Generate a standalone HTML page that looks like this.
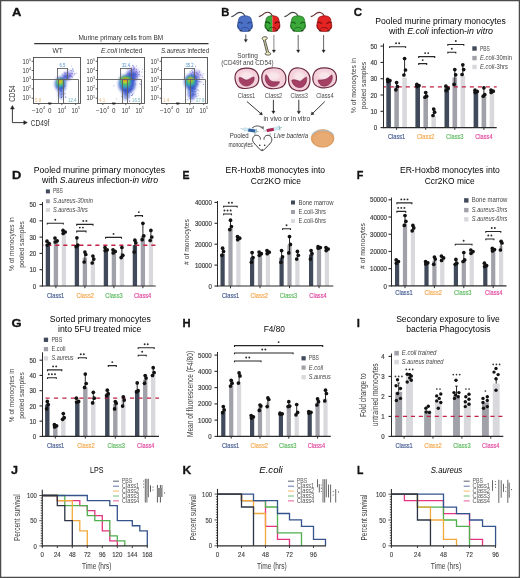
<!DOCTYPE html>
<html><head><meta charset="utf-8"><style>
html,body{margin:0;padding:0;background:#fff;}
svg{display:block;}
text{font-family:"Liberation Sans", sans-serif;}
</style></head><body>
<svg width="520" height="578" viewBox="0 0 520 578">
<defs>
<filter id="blur1" x="-50%" y="-50%" width="200%" height="200%"><feGaussianBlur stdDeviation="1.6"/></filter>
<filter id="blur2" x="-50%" y="-50%" width="200%" height="200%"><feGaussianBlur stdDeviation="0.8"/></filter>
</defs>
<rect x="0" y="0" width="520" height="578" fill="#fff"/>
<g opacity="0.995">
<text x="353.80" y="16.20" font-size="11.0" fill="#111" font-weight="bold" textLength="8.30" lengthAdjust="spacingAndGlyphs" stroke="#111" stroke-width="0.3">C</text>
<text x="440.50" y="23.70" font-size="8.3" text-anchor="middle" textLength="130.60" lengthAdjust="spacingAndGlyphs">Pooled murine primary monocytes</text>
<text x="441.00" y="34.00" font-size="8.3" text-anchor="middle" textLength="104.00" lengthAdjust="spacingAndGlyphs">with <tspan font-style="italic">E.coli</tspan> infection-<tspan font-style="italic">in vitro</tspan></text>
<line x1="383.50" y1="43.50" x2="383.50" y2="128.10" stroke="#2b2b2b" stroke-width="1"/>
<line x1="380.50" y1="127.60" x2="383.50" y2="127.60" stroke="#2b2b2b" stroke-width="1.1"/>
<text x="377.20" y="130.20" font-size="7.8" text-anchor="end" fill="#3c3c3c" textLength="3.40" lengthAdjust="spacingAndGlyphs" stroke="#3c3c3c" stroke-width="0.2">0</text>
<line x1="380.50" y1="111.30" x2="383.50" y2="111.30" stroke="#2b2b2b" stroke-width="1.1"/>
<text x="377.20" y="113.90" font-size="7.8" text-anchor="end" fill="#3c3c3c" textLength="6.80" lengthAdjust="spacingAndGlyphs" stroke="#3c3c3c" stroke-width="0.2">10</text>
<line x1="380.50" y1="95.00" x2="383.50" y2="95.00" stroke="#2b2b2b" stroke-width="1.1"/>
<text x="377.20" y="97.60" font-size="7.8" text-anchor="end" fill="#3c3c3c" textLength="6.80" lengthAdjust="spacingAndGlyphs" stroke="#3c3c3c" stroke-width="0.2">20</text>
<line x1="380.50" y1="78.70" x2="383.50" y2="78.70" stroke="#2b2b2b" stroke-width="1.1"/>
<text x="377.20" y="81.30" font-size="7.8" text-anchor="end" fill="#3c3c3c" textLength="6.80" lengthAdjust="spacingAndGlyphs" stroke="#3c3c3c" stroke-width="0.2">30</text>
<line x1="380.50" y1="62.40" x2="383.50" y2="62.40" stroke="#2b2b2b" stroke-width="1.1"/>
<text x="377.20" y="65.00" font-size="7.8" text-anchor="end" fill="#3c3c3c" textLength="6.80" lengthAdjust="spacingAndGlyphs" stroke="#3c3c3c" stroke-width="0.2">40</text>
<line x1="380.50" y1="46.10" x2="383.50" y2="46.10" stroke="#2b2b2b" stroke-width="1.1"/>
<text x="377.20" y="48.70" font-size="7.8" text-anchor="end" fill="#3c3c3c" textLength="6.80" lengthAdjust="spacingAndGlyphs" stroke="#3c3c3c" stroke-width="0.2">50</text>
<rect x="386.30" y="80.40" width="4.60" height="47.20" fill="#3f4959"/>
<rect x="394.30" y="86.40" width="4.60" height="41.20" fill="#a1a1a9"/>
<rect x="402.30" y="77.50" width="4.60" height="50.10" fill="#d9d9dd"/>
<rect x="415.40" y="85.20" width="4.60" height="42.40" fill="#3f4959"/>
<rect x="423.40" y="97.30" width="4.60" height="30.30" fill="#a1a1a9"/>
<rect x="431.40" y="116.40" width="4.60" height="11.20" fill="#d9d9dd"/>
<rect x="444.50" y="87.80" width="4.60" height="39.80" fill="#3f4959"/>
<rect x="452.50" y="77.40" width="4.60" height="50.20" fill="#a1a1a9"/>
<rect x="460.50" y="75.70" width="4.60" height="51.90" fill="#d9d9dd"/>
<rect x="473.60" y="90.40" width="4.60" height="37.20" fill="#3f4959"/>
<rect x="481.60" y="96.50" width="4.60" height="31.10" fill="#a1a1a9"/>
<rect x="489.60" y="91.30" width="4.60" height="36.30" fill="#d9d9dd"/>
<line x1="384.00" y1="86.85" x2="496.70" y2="86.85" stroke="#bf2245" stroke-width="1.3" stroke-dasharray="4.1 3.90" stroke-dashoffset="2.20"/>
<circle cx="387.70" cy="79.40" r="1.85" fill="#111"/>
<circle cx="389.90" cy="80.60" r="1.85" fill="#111"/>
<circle cx="387.90" cy="81.60" r="1.85" fill="#111"/>
<line x1="396.60" y1="82.60" x2="396.60" y2="89.80" stroke="#111" stroke-width="0.9"/>
<circle cx="396.60" cy="82.60" r="1.85" fill="#111"/>
<circle cx="397.50" cy="86.50" r="1.85" fill="#111"/>
<circle cx="395.90" cy="89.80" r="1.85" fill="#111"/>
<line x1="404.60" y1="58.50" x2="404.60" y2="75.00" stroke="#111" stroke-width="0.9"/>
<circle cx="404.60" cy="58.50" r="1.85" fill="#111"/>
<circle cx="405.50" cy="70.00" r="1.85" fill="#111"/>
<circle cx="403.90" cy="75.00" r="1.85" fill="#111"/>
<circle cx="416.80" cy="84.40" r="1.85" fill="#111"/>
<circle cx="419.00" cy="85.60" r="1.85" fill="#111"/>
<circle cx="417.00" cy="86.60" r="1.85" fill="#111"/>
<line x1="425.70" y1="92.50" x2="425.70" y2="97.20" stroke="#111" stroke-width="0.9"/>
<circle cx="425.70" cy="92.50" r="1.85" fill="#111"/>
<circle cx="426.60" cy="96.20" r="1.85" fill="#111"/>
<circle cx="425.00" cy="97.20" r="1.85" fill="#111"/>
<line x1="433.70" y1="109.10" x2="433.70" y2="115.50" stroke="#111" stroke-width="0.9"/>
<circle cx="433.70" cy="109.10" r="1.85" fill="#111"/>
<circle cx="434.60" cy="112.20" r="1.85" fill="#111"/>
<circle cx="433.00" cy="115.50" r="1.85" fill="#111"/>
<circle cx="445.90" cy="86.20" r="1.85" fill="#111"/>
<circle cx="448.10" cy="88.40" r="1.85" fill="#111"/>
<circle cx="446.10" cy="90.60" r="1.85" fill="#111"/>
<line x1="454.80" y1="69.60" x2="454.80" y2="84.40" stroke="#111" stroke-width="0.9"/>
<circle cx="454.80" cy="69.60" r="1.85" fill="#111"/>
<circle cx="455.70" cy="74.80" r="1.85" fill="#111"/>
<circle cx="454.10" cy="84.40" r="1.85" fill="#111"/>
<line x1="462.80" y1="64.80" x2="462.80" y2="74.50" stroke="#111" stroke-width="0.9"/>
<circle cx="462.80" cy="64.80" r="1.85" fill="#111"/>
<circle cx="463.70" cy="69.60" r="1.85" fill="#111"/>
<circle cx="462.10" cy="74.50" r="1.85" fill="#111"/>
<circle cx="475.00" cy="90.20" r="1.85" fill="#111"/>
<circle cx="477.20" cy="91.40" r="1.85" fill="#111"/>
<circle cx="475.20" cy="92.60" r="1.85" fill="#111"/>
<line x1="483.90" y1="87.80" x2="483.90" y2="96.20" stroke="#111" stroke-width="0.9"/>
<circle cx="483.90" cy="87.80" r="1.85" fill="#111"/>
<circle cx="484.80" cy="94.70" r="1.85" fill="#111"/>
<circle cx="483.20" cy="96.20" r="1.85" fill="#111"/>
<circle cx="491.00" cy="90.00" r="1.85" fill="#111"/>
<circle cx="493.20" cy="91.20" r="1.85" fill="#111"/>
<circle cx="491.20" cy="92.40" r="1.85" fill="#111"/>
<line x1="383.00" y1="127.60" x2="496.70" y2="127.60" stroke="#2b2b2b" stroke-width="1.1"/>
<line x1="396.60" y1="127.60" x2="396.60" y2="129.80" stroke="#2b2b2b" stroke-width="1"/>
<line x1="425.70" y1="127.60" x2="425.70" y2="129.80" stroke="#2b2b2b" stroke-width="1"/>
<line x1="454.80" y1="127.60" x2="454.80" y2="129.80" stroke="#2b2b2b" stroke-width="1"/>
<line x1="483.90" y1="127.60" x2="483.90" y2="129.80" stroke="#2b2b2b" stroke-width="1"/>
<path d="M389.60,48.10 L389.60,46.80 L405.60,46.80 L405.60,48.10" stroke="#262626" stroke-width="1.1" fill="none"/>
<circle cx="396.05" cy="43.30" r="0.95" fill="#2a2a2a"/>
<circle cx="399.15" cy="43.30" r="0.95" fill="#2a2a2a"/>
<path d="M418.70,64.90 L418.70,63.60 L426.70,63.60 L426.70,64.90" stroke="#262626" stroke-width="1.1" fill="none"/>
<circle cx="422.70" cy="60.10" r="0.95" fill="#2a2a2a"/>
<path d="M418.70,57.90 L418.70,56.60 L434.70,56.60 L434.70,57.90" stroke="#262626" stroke-width="1.1" fill="none"/>
<circle cx="425.15" cy="53.10" r="0.95" fill="#2a2a2a"/>
<circle cx="428.25" cy="53.10" r="0.95" fill="#2a2a2a"/>
<path d="M447.80,53.60 L447.80,52.30 L455.80,52.30 L455.80,53.60" stroke="#262626" stroke-width="1.1" fill="none"/>
<circle cx="451.80" cy="48.80" r="0.95" fill="#2a2a2a"/>
<path d="M447.80,45.80 L447.80,44.50 L463.80,44.50 L463.80,45.80" stroke="#262626" stroke-width="1.1" fill="none"/>
<circle cx="455.80" cy="41.00" r="0.95" fill="#2a2a2a"/>
<rect x="472.30" y="46.30" width="4.40" height="4.40" fill="#3f4959"/>
<text x="480.00" y="50.50" font-size="6.3" fill="#444" textLength="9.90" lengthAdjust="spacingAndGlyphs">PBS</text>
<rect x="472.30" y="55.90" width="4.40" height="4.40" fill="#a1a1a9"/>
<text x="480.00" y="60.10" font-size="6.3" fill="#444" textLength="32.00" lengthAdjust="spacingAndGlyphs"><tspan font-style="italic">E.coli</tspan>-30min</text>
<rect x="472.30" y="64.80" width="4.40" height="4.40" fill="#d9d9dd"/>
<text x="480.00" y="69.00" font-size="6.3" fill="#444" textLength="27.90" lengthAdjust="spacingAndGlyphs"><tspan font-style="italic">E.coli</tspan>-3hrs</text>
<text x="396.60" y="139.30" font-size="7.6" text-anchor="middle" fill="#42598f" textLength="17.40" lengthAdjust="spacingAndGlyphs" stroke="#42598f" stroke-width="0.18">Class1</text>
<text x="425.70" y="139.30" font-size="7.6" text-anchor="middle" fill="#f3a64c" textLength="17.40" lengthAdjust="spacingAndGlyphs" stroke="#f3a64c" stroke-width="0.18">Class2</text>
<text x="454.80" y="139.30" font-size="7.6" text-anchor="middle" fill="#5bb85d" textLength="17.40" lengthAdjust="spacingAndGlyphs" stroke="#5bb85d" stroke-width="0.18">Class3</text>
<text x="483.90" y="139.30" font-size="7.6" text-anchor="middle" fill="#e0449c" textLength="17.40" lengthAdjust="spacingAndGlyphs" stroke="#e0449c" stroke-width="0.18">Class4</text>
<text x="355.70" y="85.50" font-size="8.0" text-anchor="middle" fill="#3c3c3c" textLength="55.30" lengthAdjust="spacingAndGlyphs" transform="rotate(-90 355.70 85.50)">% of monocytes in</text>
<text x="366.30" y="85.50" font-size="8.0" text-anchor="middle" fill="#3c3c3c" textLength="47.50" lengthAdjust="spacingAndGlyphs" transform="rotate(-90 366.30 85.50)">pooled samples</text>
<text x="12.10" y="178.80" font-size="11.0" fill="#111" font-weight="bold" textLength="9.30" lengthAdjust="spacingAndGlyphs" stroke="#111" stroke-width="0.3">D</text>
<text x="99.40" y="172.70" font-size="8.3" text-anchor="middle" textLength="131.30" lengthAdjust="spacingAndGlyphs">Pooled murine primary monocytes</text>
<text x="100.00" y="183.00" font-size="8.3" text-anchor="middle" textLength="116.00" lengthAdjust="spacingAndGlyphs">with <tspan font-style="italic">S.aureus</tspan> infection-<tspan font-style="italic">in vitro</tspan></text>
<line x1="42.50" y1="202.00" x2="42.50" y2="286.50" stroke="#2b2b2b" stroke-width="1"/>
<line x1="39.50" y1="286.00" x2="42.50" y2="286.00" stroke="#2b2b2b" stroke-width="1.1"/>
<text x="36.20" y="288.60" font-size="7.8" text-anchor="end" fill="#3c3c3c" textLength="3.40" lengthAdjust="spacingAndGlyphs" stroke="#3c3c3c" stroke-width="0.2">0</text>
<line x1="39.50" y1="269.70" x2="42.50" y2="269.70" stroke="#2b2b2b" stroke-width="1.1"/>
<text x="36.20" y="272.30" font-size="7.8" text-anchor="end" fill="#3c3c3c" textLength="6.80" lengthAdjust="spacingAndGlyphs" stroke="#3c3c3c" stroke-width="0.2">10</text>
<line x1="39.50" y1="253.40" x2="42.50" y2="253.40" stroke="#2b2b2b" stroke-width="1.1"/>
<text x="36.20" y="256.00" font-size="7.8" text-anchor="end" fill="#3c3c3c" textLength="6.80" lengthAdjust="spacingAndGlyphs" stroke="#3c3c3c" stroke-width="0.2">20</text>
<line x1="39.50" y1="237.10" x2="42.50" y2="237.10" stroke="#2b2b2b" stroke-width="1.1"/>
<text x="36.20" y="239.70" font-size="7.8" text-anchor="end" fill="#3c3c3c" textLength="6.80" lengthAdjust="spacingAndGlyphs" stroke="#3c3c3c" stroke-width="0.2">30</text>
<line x1="39.50" y1="220.80" x2="42.50" y2="220.80" stroke="#2b2b2b" stroke-width="1.1"/>
<text x="36.20" y="223.40" font-size="7.8" text-anchor="end" fill="#3c3c3c" textLength="6.80" lengthAdjust="spacingAndGlyphs" stroke="#3c3c3c" stroke-width="0.2">40</text>
<line x1="39.50" y1="204.50" x2="42.50" y2="204.50" stroke="#2b2b2b" stroke-width="1.1"/>
<text x="36.20" y="207.10" font-size="7.8" text-anchor="end" fill="#3c3c3c" textLength="6.80" lengthAdjust="spacingAndGlyphs" stroke="#3c3c3c" stroke-width="0.2">50</text>
<rect x="45.75" y="245.00" width="4.30" height="41.00" fill="#3f4959"/>
<rect x="53.75" y="239.70" width="4.30" height="46.30" fill="#a1a1a9"/>
<rect x="61.75" y="233.50" width="4.30" height="52.50" fill="#d9d9dd"/>
<rect x="74.75" y="245.00" width="4.30" height="41.00" fill="#3f4959"/>
<rect x="82.75" y="257.60" width="4.30" height="28.40" fill="#a1a1a9"/>
<rect x="90.75" y="260.00" width="4.30" height="26.00" fill="#d9d9dd"/>
<rect x="103.75" y="249.80" width="4.30" height="36.20" fill="#3f4959"/>
<rect x="111.75" y="252.10" width="4.30" height="33.90" fill="#a1a1a9"/>
<rect x="119.75" y="252.90" width="4.30" height="33.10" fill="#d9d9dd"/>
<rect x="132.75" y="245.10" width="4.30" height="40.90" fill="#3f4959"/>
<rect x="140.75" y="235.80" width="4.30" height="50.20" fill="#a1a1a9"/>
<rect x="148.75" y="237.40" width="4.30" height="48.60" fill="#d9d9dd"/>
<line x1="43.00" y1="245.25" x2="155.70" y2="245.25" stroke="#bf2245" stroke-width="1.3" stroke-dasharray="4.1 3.90" stroke-dashoffset="3.70"/>
<circle cx="47.00" cy="241.20" r="1.85" fill="#111"/>
<circle cx="49.20" cy="243.50" r="1.85" fill="#111"/>
<circle cx="47.20" cy="245.10" r="1.85" fill="#111"/>
<circle cx="55.00" cy="238.10" r="1.85" fill="#111"/>
<circle cx="57.20" cy="240.80" r="1.85" fill="#111"/>
<circle cx="55.20" cy="242.00" r="1.85" fill="#111"/>
<circle cx="63.00" cy="230.40" r="1.85" fill="#111"/>
<circle cx="65.20" cy="232.00" r="1.85" fill="#111"/>
<circle cx="63.20" cy="233.50" r="1.85" fill="#111"/>
<line x1="76.90" y1="237.80" x2="76.90" y2="246.70" stroke="#111" stroke-width="0.9"/>
<circle cx="76.90" cy="237.80" r="1.85" fill="#111"/>
<circle cx="77.80" cy="245.10" r="1.85" fill="#111"/>
<circle cx="76.20" cy="246.70" r="1.85" fill="#111"/>
<line x1="84.90" y1="252.10" x2="84.90" y2="262.00" stroke="#111" stroke-width="0.9"/>
<circle cx="84.90" cy="252.10" r="1.85" fill="#111"/>
<circle cx="85.80" cy="254.50" r="1.85" fill="#111"/>
<circle cx="84.20" cy="262.00" r="1.85" fill="#111"/>
<line x1="92.90" y1="256.00" x2="92.90" y2="263.00" stroke="#111" stroke-width="0.9"/>
<circle cx="92.90" cy="256.00" r="1.85" fill="#111"/>
<circle cx="93.80" cy="259.10" r="1.85" fill="#111"/>
<circle cx="92.20" cy="263.00" r="1.85" fill="#111"/>
<circle cx="105.00" cy="247.50" r="1.85" fill="#111"/>
<circle cx="107.20" cy="249.80" r="1.85" fill="#111"/>
<circle cx="105.20" cy="250.60" r="1.85" fill="#111"/>
<circle cx="113.00" cy="249.80" r="1.85" fill="#111"/>
<circle cx="115.20" cy="251.40" r="1.85" fill="#111"/>
<circle cx="113.20" cy="252.90" r="1.85" fill="#111"/>
<line x1="121.90" y1="247.50" x2="121.90" y2="257.60" stroke="#111" stroke-width="0.9"/>
<circle cx="121.90" cy="247.50" r="1.85" fill="#111"/>
<circle cx="122.80" cy="255.30" r="1.85" fill="#111"/>
<circle cx="121.20" cy="257.60" r="1.85" fill="#111"/>
<line x1="134.90" y1="240.20" x2="134.90" y2="252.10" stroke="#111" stroke-width="0.9"/>
<circle cx="134.90" cy="240.20" r="1.85" fill="#111"/>
<circle cx="135.80" cy="242.80" r="1.85" fill="#111"/>
<circle cx="134.20" cy="252.10" r="1.85" fill="#111"/>
<line x1="142.90" y1="223.30" x2="142.90" y2="239.70" stroke="#111" stroke-width="0.9"/>
<circle cx="142.90" cy="223.30" r="1.85" fill="#111"/>
<circle cx="143.80" cy="235.80" r="1.85" fill="#111"/>
<circle cx="142.20" cy="239.70" r="1.85" fill="#111"/>
<line x1="150.90" y1="230.40" x2="150.90" y2="240.50" stroke="#111" stroke-width="0.9"/>
<circle cx="150.90" cy="230.40" r="1.85" fill="#111"/>
<circle cx="151.80" cy="237.00" r="1.85" fill="#111"/>
<circle cx="150.20" cy="240.50" r="1.85" fill="#111"/>
<line x1="42.00" y1="286.00" x2="155.70" y2="286.00" stroke="#2b2b2b" stroke-width="1.1"/>
<line x1="55.90" y1="286.00" x2="55.90" y2="288.20" stroke="#2b2b2b" stroke-width="1"/>
<line x1="84.90" y1="286.00" x2="84.90" y2="288.20" stroke="#2b2b2b" stroke-width="1"/>
<line x1="113.90" y1="286.00" x2="113.90" y2="288.20" stroke="#2b2b2b" stroke-width="1"/>
<line x1="142.90" y1="286.00" x2="142.90" y2="288.20" stroke="#2b2b2b" stroke-width="1"/>
<path d="M47.30,224.60 L47.30,223.30 L63.30,223.30 L63.30,224.60" stroke="#262626" stroke-width="1.1" fill="none"/>
<circle cx="55.30" cy="219.80" r="0.95" fill="#2a2a2a"/>
<path d="M76.70,225.70 L76.70,224.40 L93.00,224.40 L93.00,225.70" stroke="#262626" stroke-width="1.1" fill="none"/>
<circle cx="83.30" cy="220.90" r="0.95" fill="#2a2a2a"/>
<circle cx="86.40" cy="220.90" r="0.95" fill="#2a2a2a"/>
<path d="M76.70,232.40 L76.70,231.10 L86.00,231.10 L86.00,232.40" stroke="#262626" stroke-width="1.1" fill="none"/>
<circle cx="79.80" cy="227.60" r="0.95" fill="#2a2a2a"/>
<circle cx="82.90" cy="227.60" r="0.95" fill="#2a2a2a"/>
<path d="M105.60,238.70 L105.60,237.40 L121.50,237.40 L121.50,238.70" stroke="#262626" stroke-width="1.1" fill="none"/>
<circle cx="113.55" cy="233.90" r="0.95" fill="#2a2a2a"/>
<path d="M135.20,216.90 L135.20,215.60 L142.50,215.60 L142.50,216.90" stroke="#262626" stroke-width="1.1" fill="none"/>
<circle cx="138.85" cy="212.10" r="0.95" fill="#2a2a2a"/>
<rect x="45.90" y="189.40" width="4.00" height="4.00" fill="#3f4959"/>
<text x="52.90" y="193.40" font-size="6.3" fill="#444" textLength="10.00" lengthAdjust="spacingAndGlyphs">PBS</text>
<rect x="45.90" y="199.20" width="4.00" height="4.00" fill="#a1a1a9"/>
<text x="52.90" y="203.20" font-size="6.3" fill="#444" textLength="40.00" lengthAdjust="spacingAndGlyphs"><tspan font-style="italic">S.aureus-30min</tspan></text>
<rect x="45.90" y="208.00" width="4.00" height="4.00" fill="#d9d9dd"/>
<text x="52.90" y="212.00" font-size="6.3" fill="#444" textLength="35.00" lengthAdjust="spacingAndGlyphs"><tspan font-style="italic">S.aureus-3hrs</tspan></text>
<text x="55.60" y="297.90" font-size="7.6" text-anchor="middle" fill="#42598f" textLength="17.40" lengthAdjust="spacingAndGlyphs" stroke="#42598f" stroke-width="0.18">Class1</text>
<text x="85.20" y="297.90" font-size="7.6" text-anchor="middle" fill="#f3a64c" textLength="17.40" lengthAdjust="spacingAndGlyphs" stroke="#f3a64c" stroke-width="0.18">Class2</text>
<text x="114.00" y="297.90" font-size="7.6" text-anchor="middle" fill="#5bb85d" textLength="17.40" lengthAdjust="spacingAndGlyphs" stroke="#5bb85d" stroke-width="0.18">Class3</text>
<text x="142.60" y="297.90" font-size="7.6" text-anchor="middle" fill="#e0449c" textLength="17.40" lengthAdjust="spacingAndGlyphs" stroke="#e0449c" stroke-width="0.18">Class4</text>
<text x="14.00" y="244.20" font-size="8.0" text-anchor="middle" fill="#3c3c3c" textLength="53.50" lengthAdjust="spacingAndGlyphs" transform="rotate(-90 14.00 244.20)">% of monocytes in</text>
<text x="24.40" y="244.40" font-size="8.0" text-anchor="middle" fill="#3c3c3c" textLength="46.70" lengthAdjust="spacingAndGlyphs" transform="rotate(-90 24.40 244.40)">pooled samples</text>
<text x="182.60" y="178.80" font-size="11.0" fill="#111" font-weight="bold" textLength="7.00" lengthAdjust="spacingAndGlyphs" stroke="#111" stroke-width="0.3">E</text>
<text x="275.30" y="173.40" font-size="8.3" text-anchor="middle" textLength="99.50" lengthAdjust="spacingAndGlyphs">ER-Hoxb8 monocytes into</text>
<text x="275.90" y="183.70" font-size="8.3" text-anchor="middle" textLength="50.20" lengthAdjust="spacingAndGlyphs">Ccr2KO mice</text>
<line x1="217.50" y1="201.00" x2="217.50" y2="286.50" stroke="#2b2b2b" stroke-width="1"/>
<line x1="214.50" y1="286.00" x2="217.50" y2="286.00" stroke="#2b2b2b" stroke-width="1.1"/>
<text x="211.90" y="288.60" font-size="7.8" text-anchor="end" fill="#3c3c3c" textLength="3.40" lengthAdjust="spacingAndGlyphs" stroke="#3c3c3c" stroke-width="0.2">0</text>
<line x1="214.50" y1="265.10" x2="217.50" y2="265.10" stroke="#2b2b2b" stroke-width="1.1"/>
<text x="211.90" y="267.70" font-size="7.8" text-anchor="end" fill="#3c3c3c" textLength="17.00" lengthAdjust="spacingAndGlyphs" stroke="#3c3c3c" stroke-width="0.2">10000</text>
<line x1="214.50" y1="244.20" x2="217.50" y2="244.20" stroke="#2b2b2b" stroke-width="1.1"/>
<text x="211.90" y="246.80" font-size="7.8" text-anchor="end" fill="#3c3c3c" textLength="17.00" lengthAdjust="spacingAndGlyphs" stroke="#3c3c3c" stroke-width="0.2">20000</text>
<line x1="214.50" y1="223.30" x2="217.50" y2="223.30" stroke="#2b2b2b" stroke-width="1.1"/>
<text x="211.90" y="225.90" font-size="7.8" text-anchor="end" fill="#3c3c3c" textLength="17.00" lengthAdjust="spacingAndGlyphs" stroke="#3c3c3c" stroke-width="0.2">30000</text>
<line x1="214.50" y1="202.40" x2="217.50" y2="202.40" stroke="#2b2b2b" stroke-width="1.1"/>
<text x="211.90" y="205.00" font-size="7.8" text-anchor="end" fill="#3c3c3c" textLength="17.00" lengthAdjust="spacingAndGlyphs" stroke="#3c3c3c" stroke-width="0.2">40000</text>
<rect x="220.50" y="253.70" width="4.20" height="32.30" fill="#3f4959"/>
<rect x="228.40" y="228.00" width="4.20" height="58.00" fill="#a1a1a9"/>
<rect x="236.30" y="238.90" width="4.20" height="47.10" fill="#d9d9dd"/>
<rect x="250.00" y="257.60" width="4.20" height="28.40" fill="#3f4959"/>
<rect x="257.90" y="253.70" width="4.20" height="32.30" fill="#a1a1a9"/>
<rect x="265.80" y="252.90" width="4.20" height="33.10" fill="#d9d9dd"/>
<rect x="279.50" y="257.60" width="4.20" height="28.40" fill="#3f4959"/>
<rect x="287.40" y="245.10" width="4.20" height="40.90" fill="#a1a1a9"/>
<rect x="295.30" y="258.40" width="4.20" height="27.60" fill="#d9d9dd"/>
<rect x="309.00" y="254.50" width="4.20" height="31.50" fill="#3f4959"/>
<rect x="316.90" y="248.20" width="4.20" height="37.80" fill="#a1a1a9"/>
<rect x="324.80" y="249.80" width="4.20" height="36.20" fill="#d9d9dd"/>
<line x1="222.60" y1="248.20" x2="222.60" y2="255.30" stroke="#111" stroke-width="0.9"/>
<circle cx="222.60" cy="248.20" r="1.85" fill="#111"/>
<circle cx="223.50" cy="251.40" r="1.85" fill="#111"/>
<circle cx="221.90" cy="255.30" r="1.85" fill="#111"/>
<line x1="230.50" y1="220.20" x2="230.50" y2="229.60" stroke="#111" stroke-width="0.9"/>
<circle cx="230.50" cy="220.20" r="1.85" fill="#111"/>
<circle cx="231.40" cy="226.50" r="1.85" fill="#111"/>
<circle cx="229.80" cy="229.60" r="1.85" fill="#111"/>
<circle cx="237.50" cy="236.60" r="1.85" fill="#111"/>
<circle cx="239.70" cy="238.20" r="1.85" fill="#111"/>
<circle cx="237.70" cy="239.70" r="1.85" fill="#111"/>
<line x1="252.10" y1="252.60" x2="252.10" y2="262.30" stroke="#111" stroke-width="0.9"/>
<circle cx="252.10" cy="252.60" r="1.85" fill="#111"/>
<circle cx="253.00" cy="257.60" r="1.85" fill="#111"/>
<circle cx="251.40" cy="262.30" r="1.85" fill="#111"/>
<circle cx="259.10" cy="252.10" r="1.85" fill="#111"/>
<circle cx="261.30" cy="253.70" r="1.85" fill="#111"/>
<circle cx="259.30" cy="255.30" r="1.85" fill="#111"/>
<circle cx="267.00" cy="250.60" r="1.85" fill="#111"/>
<circle cx="269.20" cy="252.20" r="1.85" fill="#111"/>
<circle cx="267.20" cy="253.70" r="1.85" fill="#111"/>
<line x1="281.60" y1="250.60" x2="281.60" y2="262.30" stroke="#111" stroke-width="0.9"/>
<circle cx="281.60" cy="250.60" r="1.85" fill="#111"/>
<circle cx="282.50" cy="256.80" r="1.85" fill="#111"/>
<circle cx="280.90" cy="262.30" r="1.85" fill="#111"/>
<line x1="289.50" y1="236.60" x2="289.50" y2="252.90" stroke="#111" stroke-width="0.9"/>
<circle cx="289.50" cy="236.60" r="1.85" fill="#111"/>
<circle cx="290.40" cy="244.40" r="1.85" fill="#111"/>
<circle cx="288.80" cy="252.90" r="1.85" fill="#111"/>
<line x1="297.40" y1="251.40" x2="297.40" y2="259.10" stroke="#111" stroke-width="0.9"/>
<circle cx="297.40" cy="251.40" r="1.85" fill="#111"/>
<circle cx="298.30" cy="255.30" r="1.85" fill="#111"/>
<circle cx="296.70" cy="259.10" r="1.85" fill="#111"/>
<line x1="311.10" y1="250.60" x2="311.10" y2="259.10" stroke="#111" stroke-width="0.9"/>
<circle cx="311.10" cy="250.60" r="1.85" fill="#111"/>
<circle cx="312.00" cy="253.70" r="1.85" fill="#111"/>
<circle cx="310.40" cy="259.10" r="1.85" fill="#111"/>
<circle cx="318.10" cy="246.70" r="1.85" fill="#111"/>
<circle cx="320.30" cy="247.50" r="1.85" fill="#111"/>
<circle cx="318.30" cy="248.20" r="1.85" fill="#111"/>
<circle cx="326.00" cy="247.50" r="1.85" fill="#111"/>
<circle cx="328.20" cy="249.00" r="1.85" fill="#111"/>
<circle cx="326.20" cy="250.60" r="1.85" fill="#111"/>
<line x1="217.00" y1="286.00" x2="333.30" y2="286.00" stroke="#2b2b2b" stroke-width="1.1"/>
<line x1="230.50" y1="286.00" x2="230.50" y2="288.20" stroke="#2b2b2b" stroke-width="1"/>
<line x1="260.00" y1="286.00" x2="260.00" y2="288.20" stroke="#2b2b2b" stroke-width="1"/>
<line x1="289.50" y1="286.00" x2="289.50" y2="288.20" stroke="#2b2b2b" stroke-width="1"/>
<line x1="319.00" y1="286.00" x2="319.00" y2="288.20" stroke="#2b2b2b" stroke-width="1"/>
<path d="M223.60,207.50 L223.60,206.20 L237.20,206.20 L237.20,207.50" stroke="#262626" stroke-width="1.1" fill="none"/>
<circle cx="228.85" cy="202.70" r="0.95" fill="#2a2a2a"/>
<circle cx="231.95" cy="202.70" r="0.95" fill="#2a2a2a"/>
<path d="M223.60,215.30 L223.60,214.00 L231.50,214.00 L231.50,215.30" stroke="#262626" stroke-width="1.1" fill="none"/>
<circle cx="224.45" cy="210.50" r="0.95" fill="#2a2a2a"/>
<circle cx="227.55" cy="210.50" r="0.95" fill="#2a2a2a"/>
<circle cx="230.65" cy="210.50" r="0.95" fill="#2a2a2a"/>
<path d="M282.60,230.10 L282.60,228.80 L290.50,228.80 L290.50,230.10" stroke="#262626" stroke-width="1.1" fill="none"/>
<circle cx="286.55" cy="225.30" r="0.95" fill="#2a2a2a"/>
<rect x="291.00" y="200.50" width="4.00" height="4.00" fill="#3f4959"/>
<text x="298.50" y="204.50" font-size="6.3" fill="#444" textLength="35.00" lengthAdjust="spacingAndGlyphs">Bone marrow</text>
<rect x="291.00" y="210.00" width="4.00" height="4.00" fill="#a1a1a9"/>
<text x="298.50" y="214.00" font-size="6.3" fill="#444" textLength="27.50" lengthAdjust="spacingAndGlyphs">E.coli-3hrs</text>
<rect x="291.00" y="219.00" width="4.00" height="4.00" fill="#d9d9dd"/>
<text x="298.50" y="223.00" font-size="6.3" fill="#444" textLength="27.50" lengthAdjust="spacingAndGlyphs">E.coli-6hrs</text>
<text x="230.60" y="297.60" font-size="7.6" text-anchor="middle" fill="#42598f" textLength="17.40" lengthAdjust="spacingAndGlyphs" stroke="#42598f" stroke-width="0.18">Class1</text>
<text x="259.20" y="297.60" font-size="7.6" text-anchor="middle" fill="#f3a64c" textLength="17.40" lengthAdjust="spacingAndGlyphs" stroke="#f3a64c" stroke-width="0.18">Class2</text>
<text x="288.50" y="297.60" font-size="7.6" text-anchor="middle" fill="#5bb85d" textLength="17.40" lengthAdjust="spacingAndGlyphs" stroke="#5bb85d" stroke-width="0.18">Class3</text>
<text x="318.00" y="297.60" font-size="7.6" text-anchor="middle" fill="#e0449c" textLength="17.40" lengthAdjust="spacingAndGlyphs" stroke="#e0449c" stroke-width="0.18">Class4</text>
<text x="189.00" y="242.00" font-size="8.0" text-anchor="middle" fill="#3c3c3c" textLength="45.80" lengthAdjust="spacingAndGlyphs" transform="rotate(-90 189.00 242.00)"># of monocytes</text>
<text x="356.70" y="178.70" font-size="11.0" fill="#111" font-weight="bold" textLength="6.60" lengthAdjust="spacingAndGlyphs" stroke="#111" stroke-width="0.3">F</text>
<text x="449.90" y="173.20" font-size="8.3" text-anchor="middle" textLength="100.00" lengthAdjust="spacingAndGlyphs">ER-Hoxb8 monocytes into</text>
<text x="449.70" y="183.50" font-size="8.3" text-anchor="middle" textLength="49.80" lengthAdjust="spacingAndGlyphs">Ccr2KO mice</text>
<line x1="391.50" y1="197.50" x2="391.50" y2="286.40" stroke="#2b2b2b" stroke-width="1"/>
<line x1="388.50" y1="285.90" x2="391.50" y2="285.90" stroke="#2b2b2b" stroke-width="1.1"/>
<text x="387.00" y="288.50" font-size="7.8" text-anchor="end" fill="#3c3c3c" textLength="3.40" lengthAdjust="spacingAndGlyphs" stroke="#3c3c3c" stroke-width="0.2">0</text>
<line x1="388.50" y1="268.68" x2="391.50" y2="268.68" stroke="#2b2b2b" stroke-width="1.1"/>
<text x="387.00" y="271.28" font-size="7.8" text-anchor="end" fill="#3c3c3c" textLength="17.00" lengthAdjust="spacingAndGlyphs" stroke="#3c3c3c" stroke-width="0.2">10000</text>
<line x1="388.50" y1="251.46" x2="391.50" y2="251.46" stroke="#2b2b2b" stroke-width="1.1"/>
<text x="387.00" y="254.06" font-size="7.8" text-anchor="end" fill="#3c3c3c" textLength="17.00" lengthAdjust="spacingAndGlyphs" stroke="#3c3c3c" stroke-width="0.2">20000</text>
<line x1="388.50" y1="234.24" x2="391.50" y2="234.24" stroke="#2b2b2b" stroke-width="1.1"/>
<text x="387.00" y="236.84" font-size="7.8" text-anchor="end" fill="#3c3c3c" textLength="17.00" lengthAdjust="spacingAndGlyphs" stroke="#3c3c3c" stroke-width="0.2">30000</text>
<line x1="388.50" y1="217.02" x2="391.50" y2="217.02" stroke="#2b2b2b" stroke-width="1.1"/>
<text x="387.00" y="219.62" font-size="7.8" text-anchor="end" fill="#3c3c3c" textLength="17.00" lengthAdjust="spacingAndGlyphs" stroke="#3c3c3c" stroke-width="0.2">40000</text>
<line x1="388.50" y1="199.80" x2="391.50" y2="199.80" stroke="#2b2b2b" stroke-width="1.1"/>
<text x="387.00" y="202.40" font-size="7.8" text-anchor="end" fill="#3c3c3c" textLength="17.00" lengthAdjust="spacingAndGlyphs" stroke="#3c3c3c" stroke-width="0.2">50000</text>
<rect x="395.00" y="263.20" width="4.20" height="22.70" fill="#3f4959"/>
<rect x="402.90" y="223.70" width="4.20" height="62.20" fill="#a1a1a9"/>
<rect x="410.80" y="229.50" width="4.20" height="56.40" fill="#d9d9dd"/>
<rect x="424.40" y="263.20" width="4.20" height="22.70" fill="#3f4959"/>
<rect x="432.30" y="260.70" width="4.20" height="25.20" fill="#a1a1a9"/>
<rect x="440.20" y="258.20" width="4.20" height="27.70" fill="#d9d9dd"/>
<rect x="453.80" y="264.00" width="4.20" height="21.90" fill="#3f4959"/>
<rect x="461.70" y="260.70" width="4.20" height="25.20" fill="#a1a1a9"/>
<rect x="469.60" y="251.70" width="4.20" height="34.20" fill="#d9d9dd"/>
<rect x="483.20" y="265.60" width="4.20" height="20.30" fill="#3f4959"/>
<rect x="491.10" y="250.00" width="4.20" height="35.90" fill="#a1a1a9"/>
<rect x="499.00" y="245.90" width="4.20" height="40.00" fill="#d9d9dd"/>
<circle cx="396.20" cy="259.90" r="1.85" fill="#111"/>
<circle cx="398.40" cy="261.50" r="1.85" fill="#111"/>
<circle cx="396.40" cy="263.20" r="1.85" fill="#111"/>
<line x1="405.00" y1="215.50" x2="405.00" y2="225.40" stroke="#111" stroke-width="0.9"/>
<circle cx="405.00" cy="215.50" r="1.85" fill="#111"/>
<circle cx="405.90" cy="221.30" r="1.85" fill="#111"/>
<circle cx="404.30" cy="225.40" r="1.85" fill="#111"/>
<line x1="412.90" y1="225.40" x2="412.90" y2="230.80" stroke="#111" stroke-width="0.9"/>
<circle cx="412.90" cy="225.40" r="1.85" fill="#111"/>
<circle cx="413.80" cy="227.90" r="1.85" fill="#111"/>
<circle cx="412.20" cy="230.80" r="1.85" fill="#111"/>
<circle cx="425.60" cy="261.50" r="1.85" fill="#111"/>
<circle cx="427.80" cy="262.80" r="1.85" fill="#111"/>
<circle cx="425.80" cy="264.00" r="1.85" fill="#111"/>
<line x1="434.40" y1="257.10" x2="434.40" y2="264.30" stroke="#111" stroke-width="0.9"/>
<circle cx="434.40" cy="257.10" r="1.85" fill="#111"/>
<circle cx="435.30" cy="259.10" r="1.85" fill="#111"/>
<circle cx="433.70" cy="264.30" r="1.85" fill="#111"/>
<circle cx="441.40" cy="256.10" r="1.85" fill="#111"/>
<circle cx="443.60" cy="257.90" r="1.85" fill="#111"/>
<circle cx="441.60" cy="260.40" r="1.85" fill="#111"/>
<line x1="455.90" y1="259.40" x2="455.90" y2="264.30" stroke="#111" stroke-width="0.9"/>
<circle cx="455.90" cy="259.40" r="1.85" fill="#111"/>
<circle cx="456.80" cy="263.20" r="1.85" fill="#111"/>
<circle cx="455.20" cy="264.30" r="1.85" fill="#111"/>
<line x1="463.80" y1="252.50" x2="463.80" y2="261.50" stroke="#111" stroke-width="0.9"/>
<circle cx="463.80" cy="252.50" r="1.85" fill="#111"/>
<circle cx="464.70" cy="259.90" r="1.85" fill="#111"/>
<circle cx="463.10" cy="261.50" r="1.85" fill="#111"/>
<circle cx="470.80" cy="250.00" r="1.85" fill="#111"/>
<circle cx="473.00" cy="251.60" r="1.85" fill="#111"/>
<circle cx="471.00" cy="253.30" r="1.85" fill="#111"/>
<circle cx="484.40" cy="263.20" r="1.85" fill="#111"/>
<circle cx="486.60" cy="265.60" r="1.85" fill="#111"/>
<circle cx="484.60" cy="266.50" r="1.85" fill="#111"/>
<circle cx="492.30" cy="248.40" r="1.85" fill="#111"/>
<circle cx="494.50" cy="249.60" r="1.85" fill="#111"/>
<circle cx="492.50" cy="250.90" r="1.85" fill="#111"/>
<line x1="501.10" y1="241.30" x2="501.10" y2="250.00" stroke="#111" stroke-width="0.9"/>
<circle cx="501.10" cy="241.30" r="1.85" fill="#111"/>
<circle cx="502.00" cy="243.00" r="1.85" fill="#111"/>
<circle cx="500.40" cy="250.00" r="1.85" fill="#111"/>
<line x1="391.00" y1="285.90" x2="506.50" y2="285.90" stroke="#2b2b2b" stroke-width="1.1"/>
<line x1="405.00" y1="285.90" x2="405.00" y2="288.10" stroke="#2b2b2b" stroke-width="1"/>
<line x1="434.40" y1="285.90" x2="434.40" y2="288.10" stroke="#2b2b2b" stroke-width="1"/>
<line x1="463.80" y1="285.90" x2="463.80" y2="288.10" stroke="#2b2b2b" stroke-width="1"/>
<line x1="493.20" y1="285.90" x2="493.20" y2="288.10" stroke="#2b2b2b" stroke-width="1"/>
<path d="M396.90,204.20 L396.90,202.90 L411.90,202.90 L411.90,204.20" stroke="#262626" stroke-width="1.1" fill="none"/>
<circle cx="401.30" cy="199.40" r="0.95" fill="#2a2a2a"/>
<circle cx="404.40" cy="199.40" r="0.95" fill="#2a2a2a"/>
<circle cx="407.50" cy="199.40" r="0.95" fill="#2a2a2a"/>
<path d="M396.90,212.70 L396.90,211.40 L405.70,211.40 L405.70,212.70" stroke="#262626" stroke-width="1.1" fill="none"/>
<circle cx="398.20" cy="207.90" r="0.95" fill="#2a2a2a"/>
<circle cx="401.30" cy="207.90" r="0.95" fill="#2a2a2a"/>
<circle cx="404.40" cy="207.90" r="0.95" fill="#2a2a2a"/>
<path d="M455.30,245.60 L455.30,244.30 L472.00,244.30 L472.00,245.60" stroke="#262626" stroke-width="1.1" fill="none"/>
<circle cx="463.65" cy="240.80" r="0.95" fill="#2a2a2a"/>
<path d="M485.80,232.80 L485.80,231.50 L500.80,231.50 L500.80,232.80" stroke="#262626" stroke-width="1.1" fill="none"/>
<circle cx="491.75" cy="228.00" r="0.95" fill="#2a2a2a"/>
<circle cx="494.85" cy="228.00" r="0.95" fill="#2a2a2a"/>
<path d="M485.80,240.30 L485.80,239.00 L493.90,239.00 L493.90,240.30" stroke="#262626" stroke-width="1.1" fill="none"/>
<circle cx="488.30" cy="235.50" r="0.95" fill="#2a2a2a"/>
<circle cx="491.40" cy="235.50" r="0.95" fill="#2a2a2a"/>
<rect x="464.10" y="198.20" width="4.40" height="4.40" fill="#3f4959"/>
<text x="471.80" y="202.40" font-size="6.3" fill="#444" textLength="35.60" lengthAdjust="spacingAndGlyphs">Bone marrow</text>
<rect x="464.10" y="207.90" width="4.40" height="4.40" fill="#a1a1a9"/>
<text x="471.80" y="212.10" font-size="6.3" fill="#444" textLength="35.60" lengthAdjust="spacingAndGlyphs"><tspan font-style="italic">S.aureus-3hrs</tspan></text>
<rect x="464.10" y="217.10" width="4.40" height="4.40" fill="#d9d9dd"/>
<text x="471.80" y="221.30" font-size="6.3" fill="#444" textLength="35.60" lengthAdjust="spacingAndGlyphs"><tspan font-style="italic">S.aureus-6hrs</tspan></text>
<text x="404.00" y="295.20" font-size="7.6" text-anchor="middle" fill="#42598f" textLength="17.40" lengthAdjust="spacingAndGlyphs" stroke="#42598f" stroke-width="0.18">Class1</text>
<text x="433.20" y="295.20" font-size="7.6" text-anchor="middle" fill="#f3a64c" textLength="17.40" lengthAdjust="spacingAndGlyphs" stroke="#f3a64c" stroke-width="0.18">Class2</text>
<text x="462.80" y="295.20" font-size="7.6" text-anchor="middle" fill="#5bb85d" textLength="17.40" lengthAdjust="spacingAndGlyphs" stroke="#5bb85d" stroke-width="0.18">Class3</text>
<text x="493.80" y="295.20" font-size="7.6" text-anchor="middle" fill="#e0449c" textLength="17.40" lengthAdjust="spacingAndGlyphs" stroke="#e0449c" stroke-width="0.18">Class4</text>
<text x="364.60" y="246.00" font-size="8.0" text-anchor="middle" fill="#3c3c3c" textLength="46.00" lengthAdjust="spacingAndGlyphs" transform="rotate(-90 364.60 246.00)"># of monocytes</text>
<text x="11.50" y="327.20" font-size="11.0" fill="#111" font-weight="bold" textLength="10.10" lengthAdjust="spacingAndGlyphs" stroke="#111" stroke-width="0.3">G</text>
<text x="100.30" y="321.70" font-size="8.3" text-anchor="middle" textLength="101.00" lengthAdjust="spacingAndGlyphs">Sorted primary monocytes</text>
<text x="99.70" y="332.00" font-size="8.3" text-anchor="middle" textLength="83.50" lengthAdjust="spacingAndGlyphs">into 5FU treated mice</text>
<line x1="42.50" y1="352.30" x2="42.50" y2="436.90" stroke="#2b2b2b" stroke-width="1"/>
<line x1="39.50" y1="436.40" x2="42.50" y2="436.40" stroke="#2b2b2b" stroke-width="1.1"/>
<text x="36.20" y="439.00" font-size="7.8" text-anchor="end" fill="#3c3c3c" textLength="3.40" lengthAdjust="spacingAndGlyphs" stroke="#3c3c3c" stroke-width="0.2">0</text>
<line x1="39.50" y1="421.16" x2="42.50" y2="421.16" stroke="#2b2b2b" stroke-width="1.1"/>
<text x="36.20" y="423.76" font-size="7.8" text-anchor="end" fill="#3c3c3c" textLength="6.80" lengthAdjust="spacingAndGlyphs" stroke="#3c3c3c" stroke-width="0.2">10</text>
<line x1="39.50" y1="405.92" x2="42.50" y2="405.92" stroke="#2b2b2b" stroke-width="1.1"/>
<text x="36.20" y="408.52" font-size="7.8" text-anchor="end" fill="#3c3c3c" textLength="6.80" lengthAdjust="spacingAndGlyphs" stroke="#3c3c3c" stroke-width="0.2">20</text>
<line x1="39.50" y1="390.68" x2="42.50" y2="390.68" stroke="#2b2b2b" stroke-width="1.1"/>
<text x="36.20" y="393.28" font-size="7.8" text-anchor="end" fill="#3c3c3c" textLength="6.80" lengthAdjust="spacingAndGlyphs" stroke="#3c3c3c" stroke-width="0.2">30</text>
<line x1="39.50" y1="375.44" x2="42.50" y2="375.44" stroke="#2b2b2b" stroke-width="1.1"/>
<text x="36.20" y="378.04" font-size="7.8" text-anchor="end" fill="#3c3c3c" textLength="6.80" lengthAdjust="spacingAndGlyphs" stroke="#3c3c3c" stroke-width="0.2">40</text>
<line x1="39.50" y1="360.20" x2="42.50" y2="360.20" stroke="#2b2b2b" stroke-width="1.1"/>
<text x="36.20" y="362.80" font-size="7.8" text-anchor="end" fill="#3c3c3c" textLength="6.80" lengthAdjust="spacingAndGlyphs" stroke="#3c3c3c" stroke-width="0.2">50</text>
<rect x="45.10" y="404.50" width="4.40" height="31.90" fill="#3f4959"/>
<rect x="53.10" y="426.30" width="4.40" height="10.10" fill="#a1a1a9"/>
<rect x="61.10" y="418.50" width="4.40" height="17.90" fill="#d9d9dd"/>
<rect x="75.10" y="401.40" width="4.40" height="35.00" fill="#3f4959"/>
<rect x="83.10" y="387.40" width="4.40" height="49.00" fill="#a1a1a9"/>
<rect x="91.10" y="401.40" width="4.40" height="35.00" fill="#d9d9dd"/>
<rect x="105.10" y="393.70" width="4.40" height="42.70" fill="#3f4959"/>
<rect x="113.10" y="404.00" width="4.40" height="32.40" fill="#a1a1a9"/>
<rect x="121.10" y="399.70" width="4.40" height="36.70" fill="#d9d9dd"/>
<rect x="135.00" y="390.20" width="4.40" height="46.20" fill="#3f4959"/>
<rect x="143.00" y="379.80" width="4.40" height="56.60" fill="#a1a1a9"/>
<rect x="151.00" y="373.80" width="4.40" height="62.60" fill="#d9d9dd"/>
<line x1="43.00" y1="398.20" x2="159.00" y2="398.20" stroke="#bf2245" stroke-width="1.3" stroke-dasharray="4.1 4.35" stroke-dashoffset="5.95"/>
<line x1="47.30" y1="401.40" x2="47.30" y2="408.80" stroke="#111" stroke-width="0.9"/>
<circle cx="47.30" cy="401.40" r="1.85" fill="#111"/>
<circle cx="48.20" cy="404.50" r="1.85" fill="#111"/>
<circle cx="46.60" cy="408.80" r="1.85" fill="#111"/>
<circle cx="54.40" cy="424.70" r="1.85" fill="#111"/>
<circle cx="56.60" cy="425.80" r="1.85" fill="#111"/>
<circle cx="54.60" cy="427.00" r="1.85" fill="#111"/>
<line x1="63.30" y1="413.50" x2="63.30" y2="419.30" stroke="#111" stroke-width="0.9"/>
<circle cx="63.30" cy="413.50" r="1.85" fill="#111"/>
<circle cx="64.20" cy="417.70" r="1.85" fill="#111"/>
<circle cx="62.60" cy="419.30" r="1.85" fill="#111"/>
<circle cx="76.40" cy="398.20" r="1.85" fill="#111"/>
<circle cx="78.60" cy="401.40" r="1.85" fill="#111"/>
<circle cx="76.60" cy="402.10" r="1.85" fill="#111"/>
<line x1="85.30" y1="374.10" x2="85.30" y2="387.40" stroke="#111" stroke-width="0.9"/>
<circle cx="85.30" cy="374.10" r="1.85" fill="#111"/>
<circle cx="86.20" cy="383.50" r="1.85" fill="#111"/>
<circle cx="84.60" cy="387.40" r="1.85" fill="#111"/>
<line x1="93.30" y1="392.30" x2="93.30" y2="402.90" stroke="#111" stroke-width="0.9"/>
<circle cx="93.30" cy="392.30" r="1.85" fill="#111"/>
<circle cx="94.20" cy="398.20" r="1.85" fill="#111"/>
<circle cx="92.60" cy="402.90" r="1.85" fill="#111"/>
<line x1="107.30" y1="390.20" x2="107.30" y2="395.80" stroke="#111" stroke-width="0.9"/>
<circle cx="107.30" cy="390.20" r="1.85" fill="#111"/>
<circle cx="108.20" cy="393.70" r="1.85" fill="#111"/>
<circle cx="106.60" cy="395.80" r="1.85" fill="#111"/>
<line x1="115.30" y1="401.50" x2="115.30" y2="408.90" stroke="#111" stroke-width="0.9"/>
<circle cx="115.30" cy="401.50" r="1.85" fill="#111"/>
<circle cx="116.20" cy="403.20" r="1.85" fill="#111"/>
<circle cx="114.60" cy="408.90" r="1.85" fill="#111"/>
<line x1="123.30" y1="396.80" x2="123.30" y2="406.10" stroke="#111" stroke-width="0.9"/>
<circle cx="123.30" cy="396.80" r="1.85" fill="#111"/>
<circle cx="124.20" cy="400.10" r="1.85" fill="#111"/>
<circle cx="122.60" cy="406.10" r="1.85" fill="#111"/>
<line x1="137.20" y1="382.90" x2="137.20" y2="391.90" stroke="#111" stroke-width="0.9"/>
<circle cx="137.20" cy="382.90" r="1.85" fill="#111"/>
<circle cx="138.10" cy="390.70" r="1.85" fill="#111"/>
<circle cx="136.50" cy="391.90" r="1.85" fill="#111"/>
<line x1="145.20" y1="375.50" x2="145.20" y2="383.30" stroke="#111" stroke-width="0.9"/>
<circle cx="145.20" cy="375.50" r="1.85" fill="#111"/>
<circle cx="146.10" cy="378.10" r="1.85" fill="#111"/>
<circle cx="144.50" cy="383.30" r="1.85" fill="#111"/>
<line x1="153.20" y1="367.70" x2="153.20" y2="375.50" stroke="#111" stroke-width="0.9"/>
<circle cx="153.20" cy="367.70" r="1.85" fill="#111"/>
<circle cx="154.10" cy="372.60" r="1.85" fill="#111"/>
<circle cx="152.50" cy="375.50" r="1.85" fill="#111"/>
<line x1="42.00" y1="436.40" x2="159.00" y2="436.40" stroke="#2b2b2b" stroke-width="1.1"/>
<line x1="55.30" y1="436.40" x2="55.30" y2="438.60" stroke="#2b2b2b" stroke-width="1"/>
<line x1="85.30" y1="436.40" x2="85.30" y2="438.60" stroke="#2b2b2b" stroke-width="1"/>
<line x1="115.30" y1="436.40" x2="115.30" y2="438.60" stroke="#2b2b2b" stroke-width="1"/>
<line x1="145.20" y1="436.40" x2="145.20" y2="438.60" stroke="#2b2b2b" stroke-width="1"/>
<path d="M47.50,371.20 L47.50,369.90 L61.80,369.90 L61.80,371.20" stroke="#262626" stroke-width="1.1" fill="none"/>
<circle cx="53.10" cy="366.40" r="0.95" fill="#2a2a2a"/>
<circle cx="56.20" cy="366.40" r="0.95" fill="#2a2a2a"/>
<path d="M47.50,379.00 L47.50,377.70 L56.30,377.70 L56.30,379.00" stroke="#262626" stroke-width="1.1" fill="none"/>
<circle cx="48.80" cy="374.20" r="0.95" fill="#2a2a2a"/>
<circle cx="51.90" cy="374.20" r="0.95" fill="#2a2a2a"/>
<circle cx="55.00" cy="374.20" r="0.95" fill="#2a2a2a"/>
<path d="M78.30,359.10 L78.30,357.80 L86.30,357.80 L86.30,359.10" stroke="#262626" stroke-width="1.1" fill="none"/>
<circle cx="80.75" cy="354.30" r="0.95" fill="#2a2a2a"/>
<circle cx="83.85" cy="354.30" r="0.95" fill="#2a2a2a"/>
<path d="M108.30,366.90 L108.30,365.60 L116.30,365.60 L116.30,366.90" stroke="#262626" stroke-width="1.1" fill="none"/>
<circle cx="112.30" cy="362.10" r="0.95" fill="#2a2a2a"/>
<path d="M138.20,349.10 L138.20,347.80 L154.20,347.80 L154.20,349.10" stroke="#262626" stroke-width="1.1" fill="none"/>
<circle cx="144.65" cy="344.30" r="0.95" fill="#2a2a2a"/>
<circle cx="147.75" cy="344.30" r="0.95" fill="#2a2a2a"/>
<path d="M138.20,356.50 L138.20,355.20 L146.20,355.20 L146.20,356.50" stroke="#262626" stroke-width="1.1" fill="none"/>
<circle cx="142.20" cy="351.70" r="0.95" fill="#2a2a2a"/>
<rect x="43.80" y="337.65" width="4.30" height="4.30" fill="#3f4959"/>
<text x="51.50" y="341.80" font-size="6.3" fill="#444" textLength="10.70" lengthAdjust="spacingAndGlyphs">PBS</text>
<rect x="43.80" y="346.95" width="4.30" height="4.30" fill="#a1a1a9"/>
<text x="51.50" y="351.10" font-size="6.3" fill="#444" textLength="13.90" lengthAdjust="spacingAndGlyphs">E.coli</text>
<rect x="43.80" y="356.25" width="4.30" height="4.30" fill="#d9d9dd"/>
<text x="51.50" y="360.40" font-size="6.3" fill="#444" textLength="22.00" lengthAdjust="spacingAndGlyphs"><tspan font-style="italic">S.aureus</tspan></text>
<text x="55.60" y="448.20" font-size="7.6" text-anchor="middle" fill="#42598f" textLength="17.40" lengthAdjust="spacingAndGlyphs" stroke="#42598f" stroke-width="0.18">Class1</text>
<text x="85.90" y="448.20" font-size="7.6" text-anchor="middle" fill="#f3a64c" textLength="17.40" lengthAdjust="spacingAndGlyphs" stroke="#f3a64c" stroke-width="0.18">Class2</text>
<text x="116.20" y="448.20" font-size="7.6" text-anchor="middle" fill="#5bb85d" textLength="17.40" lengthAdjust="spacingAndGlyphs" stroke="#5bb85d" stroke-width="0.18">Class3</text>
<text x="145.80" y="448.20" font-size="7.6" text-anchor="middle" fill="#e0449c" textLength="17.40" lengthAdjust="spacingAndGlyphs" stroke="#e0449c" stroke-width="0.18">Class4</text>
<text x="13.80" y="395.50" font-size="8.0" text-anchor="middle" fill="#3c3c3c" textLength="53.50" lengthAdjust="spacingAndGlyphs" transform="rotate(-90 13.80 395.50)">% of monocytes in</text>
<text x="23.80" y="395.50" font-size="8.0" text-anchor="middle" fill="#3c3c3c" textLength="46.70" lengthAdjust="spacingAndGlyphs" transform="rotate(-90 23.80 395.50)">pooled samples</text>
<text x="182.60" y="326.70" font-size="11.0" fill="#111" font-weight="bold" textLength="8.10" lengthAdjust="spacingAndGlyphs" stroke="#111" stroke-width="0.3">H</text>
<text x="274.30" y="331.50" font-size="8.3" text-anchor="middle">F4/80</text>
<line x1="217.50" y1="352.00" x2="217.50" y2="436.90" stroke="#2b2b2b" stroke-width="1"/>
<line x1="214.50" y1="436.40" x2="217.50" y2="436.40" stroke="#2b2b2b" stroke-width="1.1"/>
<text x="211.70" y="439.00" font-size="7.8" text-anchor="end" fill="#3c3c3c" textLength="3.40" lengthAdjust="spacingAndGlyphs" stroke="#3c3c3c" stroke-width="0.2">0</text>
<line x1="214.50" y1="420.14" x2="217.50" y2="420.14" stroke="#2b2b2b" stroke-width="1.1"/>
<text x="211.70" y="422.74" font-size="7.8" text-anchor="end" fill="#3c3c3c" textLength="13.60" lengthAdjust="spacingAndGlyphs" stroke="#3c3c3c" stroke-width="0.2">1000</text>
<line x1="214.50" y1="403.88" x2="217.50" y2="403.88" stroke="#2b2b2b" stroke-width="1.1"/>
<text x="211.70" y="406.48" font-size="7.8" text-anchor="end" fill="#3c3c3c" textLength="13.60" lengthAdjust="spacingAndGlyphs" stroke="#3c3c3c" stroke-width="0.2">2000</text>
<line x1="214.50" y1="387.62" x2="217.50" y2="387.62" stroke="#2b2b2b" stroke-width="1.1"/>
<text x="211.70" y="390.22" font-size="7.8" text-anchor="end" fill="#3c3c3c" textLength="13.60" lengthAdjust="spacingAndGlyphs" stroke="#3c3c3c" stroke-width="0.2">3000</text>
<line x1="214.50" y1="371.36" x2="217.50" y2="371.36" stroke="#2b2b2b" stroke-width="1.1"/>
<text x="211.70" y="373.96" font-size="7.8" text-anchor="end" fill="#3c3c3c" textLength="13.60" lengthAdjust="spacingAndGlyphs" stroke="#3c3c3c" stroke-width="0.2">4000</text>
<line x1="214.50" y1="355.10" x2="217.50" y2="355.10" stroke="#2b2b2b" stroke-width="1.1"/>
<text x="211.70" y="357.70" font-size="7.8" text-anchor="end" fill="#3c3c3c" textLength="13.60" lengthAdjust="spacingAndGlyphs" stroke="#3c3c3c" stroke-width="0.2">5000</text>
<rect x="221.20" y="411.50" width="4.20" height="24.90" fill="#3f4959"/>
<rect x="229.10" y="385.20" width="4.20" height="51.20" fill="#a1a1a9"/>
<rect x="237.00" y="382.00" width="4.20" height="54.40" fill="#d9d9dd"/>
<rect x="250.00" y="417.30" width="4.20" height="19.10" fill="#3f4959"/>
<rect x="257.90" y="407.40" width="4.20" height="29.00" fill="#a1a1a9"/>
<rect x="265.80" y="402.50" width="4.20" height="33.90" fill="#d9d9dd"/>
<rect x="278.80" y="414.00" width="4.20" height="22.40" fill="#3f4959"/>
<rect x="286.70" y="406.60" width="4.20" height="29.80" fill="#a1a1a9"/>
<rect x="294.60" y="415.60" width="4.20" height="20.80" fill="#d9d9dd"/>
<rect x="307.60" y="413.20" width="4.20" height="23.20" fill="#3f4959"/>
<rect x="315.50" y="402.50" width="4.20" height="33.90" fill="#a1a1a9"/>
<rect x="323.40" y="398.40" width="4.20" height="38.00" fill="#d9d9dd"/>
<line x1="223.30" y1="406.60" x2="223.30" y2="412.70" stroke="#111" stroke-width="0.9"/>
<circle cx="223.30" cy="406.60" r="1.85" fill="#111"/>
<circle cx="224.20" cy="409.90" r="1.85" fill="#111"/>
<circle cx="222.60" cy="412.70" r="1.85" fill="#111"/>
<line x1="231.20" y1="380.30" x2="231.20" y2="386.10" stroke="#111" stroke-width="0.9"/>
<circle cx="231.20" cy="380.30" r="1.85" fill="#111"/>
<circle cx="232.10" cy="383.20" r="1.85" fill="#111"/>
<circle cx="230.50" cy="386.10" r="1.85" fill="#111"/>
<line x1="239.10" y1="372.90" x2="239.10" y2="383.10" stroke="#111" stroke-width="0.9"/>
<circle cx="239.10" cy="372.90" r="1.85" fill="#111"/>
<circle cx="240.00" cy="375.90" r="1.85" fill="#111"/>
<circle cx="238.40" cy="383.10" r="1.85" fill="#111"/>
<circle cx="251.20" cy="415.60" r="1.85" fill="#111"/>
<circle cx="253.40" cy="416.80" r="1.85" fill="#111"/>
<circle cx="251.40" cy="418.10" r="1.85" fill="#111"/>
<line x1="260.00" y1="405.00" x2="260.00" y2="410.40" stroke="#111" stroke-width="0.9"/>
<circle cx="260.00" cy="405.00" r="1.85" fill="#111"/>
<circle cx="260.90" cy="406.10" r="1.85" fill="#111"/>
<circle cx="259.30" cy="410.40" r="1.85" fill="#111"/>
<line x1="267.90" y1="397.90" x2="267.90" y2="406.60" stroke="#111" stroke-width="0.9"/>
<circle cx="267.90" cy="397.90" r="1.85" fill="#111"/>
<circle cx="268.80" cy="399.50" r="1.85" fill="#111"/>
<circle cx="267.20" cy="406.60" r="1.85" fill="#111"/>
<circle cx="280.00" cy="413.20" r="1.85" fill="#111"/>
<circle cx="282.20" cy="413.80" r="1.85" fill="#111"/>
<circle cx="280.20" cy="414.30" r="1.85" fill="#111"/>
<line x1="288.80" y1="401.70" x2="288.80" y2="406.60" stroke="#111" stroke-width="0.9"/>
<circle cx="288.80" cy="401.70" r="1.85" fill="#111"/>
<circle cx="289.70" cy="406.10" r="1.85" fill="#111"/>
<circle cx="288.10" cy="406.60" r="1.85" fill="#111"/>
<line x1="296.70" y1="404.50" x2="296.70" y2="414.80" stroke="#111" stroke-width="0.9"/>
<circle cx="296.70" cy="404.50" r="1.85" fill="#111"/>
<circle cx="297.60" cy="412.40" r="1.85" fill="#111"/>
<circle cx="296.00" cy="414.80" r="1.85" fill="#111"/>
<circle cx="308.80" cy="411.50" r="1.85" fill="#111"/>
<circle cx="311.00" cy="412.30" r="1.85" fill="#111"/>
<circle cx="309.00" cy="413.20" r="1.85" fill="#111"/>
<line x1="317.60" y1="398.90" x2="317.60" y2="405.00" stroke="#111" stroke-width="0.9"/>
<circle cx="317.60" cy="398.90" r="1.85" fill="#111"/>
<circle cx="318.50" cy="401.70" r="1.85" fill="#111"/>
<circle cx="316.90" cy="405.00" r="1.85" fill="#111"/>
<line x1="325.50" y1="390.20" x2="325.50" y2="400.90" stroke="#111" stroke-width="0.9"/>
<circle cx="325.50" cy="390.20" r="1.85" fill="#111"/>
<circle cx="326.40" cy="393.50" r="1.85" fill="#111"/>
<circle cx="324.80" cy="400.90" r="1.85" fill="#111"/>
<line x1="217.00" y1="436.40" x2="330.80" y2="436.40" stroke="#2b2b2b" stroke-width="1.1"/>
<line x1="231.20" y1="436.40" x2="231.20" y2="438.60" stroke="#2b2b2b" stroke-width="1"/>
<line x1="260.00" y1="436.40" x2="260.00" y2="438.60" stroke="#2b2b2b" stroke-width="1"/>
<line x1="288.80" y1="436.40" x2="288.80" y2="438.60" stroke="#2b2b2b" stroke-width="1"/>
<line x1="317.60" y1="436.40" x2="317.60" y2="438.60" stroke="#2b2b2b" stroke-width="1"/>
<path d="M234.50,362.30 L234.50,361.00 L261.00,361.00 L261.00,362.30" stroke="#262626" stroke-width="1.1" fill="none"/>
<circle cx="246.20" cy="357.50" r="0.95" fill="#2a2a2a"/>
<circle cx="249.30" cy="357.50" r="0.95" fill="#2a2a2a"/>
<path d="M234.50,354.30 L234.50,353.00 L293.10,353.00 L293.10,354.30" stroke="#262626" stroke-width="1.1" fill="none"/>
<circle cx="262.25" cy="349.50" r="0.95" fill="#2a2a2a"/>
<circle cx="265.35" cy="349.50" r="0.95" fill="#2a2a2a"/>
<path d="M234.50,346.90 L234.50,345.60 L322.70,345.60 L322.70,346.90" stroke="#262626" stroke-width="1.1" fill="none"/>
<circle cx="278.60" cy="342.10" r="0.95" fill="#2a2a2a"/>
<rect x="301.50" y="356.20" width="4.20" height="4.20" fill="#3f4959"/>
<text x="308.80" y="360.30" font-size="6.3" fill="#444" textLength="10.10" lengthAdjust="spacingAndGlyphs">PBS</text>
<rect x="301.50" y="365.50" width="4.20" height="4.20" fill="#a1a1a9"/>
<text x="308.80" y="369.60" font-size="6.3" fill="#444" textLength="14.20" lengthAdjust="spacingAndGlyphs"><tspan font-style="italic">E.coli</tspan></text>
<rect x="301.50" y="375.10" width="4.20" height="4.20" fill="#d9d9dd"/>
<text x="308.80" y="379.20" font-size="6.3" fill="#444" textLength="21.90" lengthAdjust="spacingAndGlyphs"><tspan font-style="italic">S.aureus</tspan></text>
<text x="230.60" y="448.20" font-size="7.6" text-anchor="middle" fill="#42598f" textLength="17.40" lengthAdjust="spacingAndGlyphs" stroke="#42598f" stroke-width="0.18">Class1</text>
<text x="259.20" y="448.20" font-size="7.6" text-anchor="middle" fill="#f3a64c" textLength="17.40" lengthAdjust="spacingAndGlyphs" stroke="#f3a64c" stroke-width="0.18">Class2</text>
<text x="287.80" y="448.20" font-size="7.6" text-anchor="middle" fill="#5bb85d" textLength="17.40" lengthAdjust="spacingAndGlyphs" stroke="#5bb85d" stroke-width="0.18">Class3</text>
<text x="316.40" y="448.20" font-size="7.6" text-anchor="middle" fill="#e0449c" textLength="17.40" lengthAdjust="spacingAndGlyphs" stroke="#e0449c" stroke-width="0.18">Class4</text>
<text x="192.80" y="394.00" font-size="8.6" text-anchor="middle" fill="#3c3c3c" textLength="86.20" lengthAdjust="spacingAndGlyphs" transform="rotate(-90 192.80 394.00)">Mean of fluorescence (F4/80)</text>
<text x="356.70" y="326.70" font-size="11.0" fill="#111" font-weight="bold" textLength="3.10" lengthAdjust="spacingAndGlyphs" stroke="#111" stroke-width="0.3">I</text>
<text x="448.00" y="321.70" font-size="8.3" text-anchor="middle" textLength="103.70" lengthAdjust="spacingAndGlyphs">Secondary exposure to live</text>
<text x="448.40" y="332.00" font-size="8.3" text-anchor="middle" textLength="84.20" lengthAdjust="spacingAndGlyphs">bacteria Phagocytosis</text>
<line x1="391.50" y1="353.50" x2="391.50" y2="436.90" stroke="#2b2b2b" stroke-width="1"/>
<line x1="388.50" y1="436.40" x2="391.50" y2="436.40" stroke="#2b2b2b" stroke-width="1.1"/>
<text x="384.70" y="439.00" font-size="7.8" text-anchor="end" fill="#3c3c3c" textLength="3.40" lengthAdjust="spacingAndGlyphs" stroke="#3c3c3c" stroke-width="0.2">0</text>
<line x1="388.50" y1="416.40" x2="391.50" y2="416.40" stroke="#2b2b2b" stroke-width="1.1"/>
<text x="384.70" y="419.00" font-size="7.8" text-anchor="end" fill="#3c3c3c" textLength="3.40" lengthAdjust="spacingAndGlyphs" stroke="#3c3c3c" stroke-width="0.2">1</text>
<line x1="388.50" y1="396.40" x2="391.50" y2="396.40" stroke="#2b2b2b" stroke-width="1.1"/>
<text x="384.70" y="399.00" font-size="7.8" text-anchor="end" fill="#3c3c3c" textLength="3.40" lengthAdjust="spacingAndGlyphs" stroke="#3c3c3c" stroke-width="0.2">2</text>
<line x1="388.50" y1="376.40" x2="391.50" y2="376.40" stroke="#2b2b2b" stroke-width="1.1"/>
<text x="384.70" y="379.00" font-size="7.8" text-anchor="end" fill="#3c3c3c" textLength="3.40" lengthAdjust="spacingAndGlyphs" stroke="#3c3c3c" stroke-width="0.2">3</text>
<line x1="388.50" y1="356.40" x2="391.50" y2="356.40" stroke="#2b2b2b" stroke-width="1.1"/>
<text x="384.70" y="359.00" font-size="7.8" text-anchor="end" fill="#3c3c3c" textLength="3.40" lengthAdjust="spacingAndGlyphs" stroke="#3c3c3c" stroke-width="0.2">4</text>
<rect x="395.25" y="391.80" width="6.90" height="44.60" fill="#a1a1a9"/>
<rect x="406.05" y="375.40" width="6.90" height="61.00" fill="#d9d9dd"/>
<rect x="424.15" y="410.70" width="6.90" height="25.70" fill="#a1a1a9"/>
<rect x="434.95" y="400.90" width="6.90" height="35.50" fill="#d9d9dd"/>
<rect x="453.05" y="395.10" width="6.90" height="41.30" fill="#a1a1a9"/>
<rect x="463.85" y="401.70" width="6.90" height="34.70" fill="#d9d9dd"/>
<rect x="481.95" y="402.50" width="6.90" height="33.90" fill="#a1a1a9"/>
<rect x="492.75" y="383.60" width="6.90" height="52.80" fill="#d9d9dd"/>
<line x1="392.00" y1="416.40" x2="503.30" y2="416.40" stroke="#bf2245" stroke-width="1.3" stroke-dasharray="4.1 3.85" stroke-dashoffset="4.95"/>
<line x1="391.00" y1="436.40" x2="503.30" y2="436.40" stroke="#2b2b2b" stroke-width="1.1"/>
<line x1="404.10" y1="436.40" x2="404.10" y2="438.60" stroke="#2b2b2b" stroke-width="1"/>
<line x1="433.00" y1="436.40" x2="433.00" y2="438.60" stroke="#2b2b2b" stroke-width="1"/>
<line x1="461.90" y1="436.40" x2="461.90" y2="438.60" stroke="#2b2b2b" stroke-width="1"/>
<line x1="490.80" y1="436.40" x2="490.80" y2="438.60" stroke="#2b2b2b" stroke-width="1"/>
<line x1="398.70" y1="383.00" x2="398.70" y2="391.80" stroke="#111" stroke-width="0.9"/>
<line x1="397.30" y1="383.00" x2="400.10" y2="383.00" stroke="#111" stroke-width="0.8"/>
<line x1="409.50" y1="373.50" x2="409.50" y2="375.40" stroke="#111" stroke-width="0.9"/>
<line x1="408.10" y1="373.50" x2="410.90" y2="373.50" stroke="#111" stroke-width="0.8"/>
<line x1="456.50" y1="386.10" x2="456.50" y2="395.10" stroke="#111" stroke-width="0.9"/>
<line x1="455.10" y1="386.10" x2="457.90" y2="386.10" stroke="#111" stroke-width="0.8"/>
<line x1="496.20" y1="379.60" x2="496.20" y2="383.60" stroke="#111" stroke-width="0.9"/>
<line x1="494.80" y1="379.60" x2="497.60" y2="379.60" stroke="#111" stroke-width="0.8"/>
<circle cx="397.50" cy="379.80" r="1.7" fill="#111"/>
<circle cx="396.10" cy="385.70" r="1.7" fill="#111"/>
<circle cx="400.50" cy="388.50" r="1.7" fill="#111"/>
<circle cx="397.60" cy="393.50" r="1.7" fill="#111"/>
<circle cx="400.50" cy="398.40" r="1.7" fill="#111"/>
<circle cx="396.40" cy="400.50" r="1.7" fill="#111"/>
<circle cx="407.20" cy="374.20" r="1.7" fill="#111"/>
<circle cx="409.70" cy="374.60" r="1.7" fill="#111"/>
<circle cx="411.30" cy="375.90" r="1.7" fill="#111"/>
<circle cx="409.70" cy="377.90" r="1.7" fill="#111"/>
<circle cx="411.30" cy="380.30" r="1.7" fill="#111"/>
<circle cx="407.20" cy="382.00" r="1.7" fill="#111"/>
<circle cx="428.30" cy="406.30" r="1.7" fill="#111"/>
<circle cx="425.90" cy="408.30" r="1.7" fill="#111"/>
<circle cx="426.20" cy="412.00" r="1.7" fill="#111"/>
<circle cx="429.50" cy="412.40" r="1.7" fill="#111"/>
<circle cx="440.80" cy="394.00" r="1.7" fill="#111"/>
<circle cx="436.70" cy="395.90" r="1.7" fill="#111"/>
<circle cx="439.20" cy="398.40" r="1.7" fill="#111"/>
<circle cx="436.70" cy="400.90" r="1.7" fill="#111"/>
<circle cx="440.80" cy="402.50" r="1.7" fill="#111"/>
<circle cx="438.30" cy="408.30" r="1.7" fill="#111"/>
<circle cx="456.00" cy="380.30" r="1.7" fill="#111"/>
<circle cx="454.00" cy="392.60" r="1.7" fill="#111"/>
<circle cx="458.90" cy="392.60" r="1.7" fill="#111"/>
<circle cx="455.60" cy="395.10" r="1.7" fill="#111"/>
<circle cx="458.10" cy="396.80" r="1.7" fill="#111"/>
<circle cx="454.50" cy="398.40" r="1.7" fill="#111"/>
<circle cx="469.00" cy="394.30" r="1.7" fill="#111"/>
<circle cx="465.80" cy="396.80" r="1.7" fill="#111"/>
<circle cx="469.00" cy="399.20" r="1.7" fill="#111"/>
<circle cx="465.30" cy="401.70" r="1.7" fill="#111"/>
<circle cx="469.00" cy="404.20" r="1.7" fill="#111"/>
<circle cx="465.30" cy="406.60" r="1.7" fill="#111"/>
<circle cx="487.30" cy="396.80" r="1.7" fill="#111"/>
<circle cx="483.00" cy="398.40" r="1.7" fill="#111"/>
<circle cx="487.30" cy="400.50" r="1.7" fill="#111"/>
<circle cx="483.00" cy="402.50" r="1.7" fill="#111"/>
<circle cx="487.30" cy="406.60" r="1.7" fill="#111"/>
<circle cx="483.50" cy="408.30" r="1.7" fill="#111"/>
<circle cx="496.00" cy="368.50" r="1.7" fill="#111"/>
<circle cx="494.00" cy="372.10" r="1.7" fill="#111"/>
<circle cx="498.10" cy="374.60" r="1.7" fill="#111"/>
<circle cx="496.00" cy="378.70" r="1.7" fill="#111"/>
<circle cx="496.00" cy="390.20" r="1.7" fill="#111"/>
<circle cx="395.50" cy="376.40" r="0.85" fill="#333"/>
<circle cx="398.70" cy="376.40" r="0.85" fill="#333"/>
<circle cx="401.90" cy="376.40" r="0.85" fill="#333"/>
<circle cx="406.30" cy="369.40" r="0.85" fill="#333"/>
<circle cx="409.50" cy="369.40" r="0.85" fill="#333"/>
<circle cx="412.70" cy="369.40" r="0.85" fill="#333"/>
<circle cx="436.80" cy="389.00" r="0.85" fill="#333"/>
<circle cx="440.00" cy="389.00" r="0.85" fill="#333"/>
<circle cx="453.30" cy="374.60" r="0.85" fill="#333"/>
<circle cx="456.50" cy="374.60" r="0.85" fill="#333"/>
<circle cx="459.70" cy="374.60" r="0.85" fill="#333"/>
<circle cx="465.90" cy="389.00" r="0.85" fill="#333"/>
<circle cx="469.10" cy="389.00" r="0.85" fill="#333"/>
<circle cx="485.40" cy="391.00" r="0.85" fill="#333"/>
<circle cx="493.20" cy="364.40" r="0.85" fill="#333"/>
<circle cx="496.40" cy="364.40" r="0.85" fill="#333"/>
<circle cx="499.60" cy="364.40" r="0.85" fill="#333"/>
<rect x="394.30" y="350.90" width="4.60" height="4.60" fill="#a1a1a9"/>
<text x="401.80" y="355.20" font-size="6.3" fill="#444" textLength="34.60" lengthAdjust="spacingAndGlyphs"><tspan font-style="italic">E.coli trained</tspan></text>
<rect x="394.30" y="359.80" width="4.60" height="4.60" fill="#d9d9dd"/>
<text x="401.80" y="364.10" font-size="6.3" fill="#444" textLength="41.50" lengthAdjust="spacingAndGlyphs"><tspan font-style="italic">S.aureus trained</tspan></text>
<text x="404.10" y="448.20" font-size="7.6" text-anchor="middle" fill="#42598f" textLength="17.40" lengthAdjust="spacingAndGlyphs" stroke="#42598f" stroke-width="0.18">Class1</text>
<text x="433.00" y="448.20" font-size="7.6" text-anchor="middle" fill="#f3a64c" textLength="17.40" lengthAdjust="spacingAndGlyphs" stroke="#f3a64c" stroke-width="0.18">Class2</text>
<text x="461.90" y="448.20" font-size="7.6" text-anchor="middle" fill="#5bb85d" textLength="17.40" lengthAdjust="spacingAndGlyphs" stroke="#5bb85d" stroke-width="0.18">Class3</text>
<text x="490.80" y="448.20" font-size="7.6" text-anchor="middle" fill="#e0449c" textLength="17.40" lengthAdjust="spacingAndGlyphs" stroke="#e0449c" stroke-width="0.18">Class4</text>
<text x="365.80" y="395.20" font-size="8.6" text-anchor="middle" fill="#3c3c3c" textLength="43.60" lengthAdjust="spacingAndGlyphs" transform="rotate(-90 365.80 395.20)">Fold change to</text>
<text x="377.80" y="394.80" font-size="8.6" text-anchor="middle" fill="#3c3c3c" textLength="63.10" lengthAdjust="spacingAndGlyphs" transform="rotate(-90 377.80 394.80)">untrained monocytes</text>
<text x="10.90" y="473.90" font-size="11.0" fill="#111" font-weight="bold" textLength="7.00" lengthAdjust="spacingAndGlyphs" stroke="#111" stroke-width="0.3">J</text>
<text x="96.70" y="472.70" font-size="8.6" text-anchor="middle" textLength="13.40" lengthAdjust="spacingAndGlyphs">LPS</text>
<path d="M42.30,495.50 L57.30,495.50 L57.30,500.54 L79.80,500.54 L79.80,505.58 L87.30,505.58 L87.30,510.62 L94.80,510.62 L94.80,515.66 L102.30,515.66 L102.30,530.78 L109.80,530.78 L109.80,540.86 L117.30,540.86 L117.30,545.90" stroke="#e2337f" stroke-width="1.3" fill="none" stroke-linejoin="miter"/>
<path d="M42.30,495.50 L64.80,495.50 L64.80,505.58 L87.30,505.58 L87.30,515.66 L94.80,515.66 L94.80,520.70 L109.80,520.70 L109.80,535.82 L117.30,535.82 L117.30,540.86 L124.80,540.86 L124.80,545.90" stroke="#4fb04f" stroke-width="1.3" fill="none" stroke-linejoin="miter"/>
<path d="M42.30,495.50 L57.30,495.50 L57.30,500.54 L72.30,500.54 L72.30,520.70 L79.80,520.70 L79.80,530.78 L87.30,530.78 L87.30,545.90" stroke="#f2a93b" stroke-width="1.3" fill="none" stroke-linejoin="miter"/>
<path d="M42.30,495.50 L87.30,495.50 L87.30,500.54 L109.80,500.54 L109.80,505.58 L117.30,505.58 L117.30,520.70 L132.30,520.70 L132.30,525.74 L139.80,525.74 L139.80,530.78 L147.30,530.78 L147.30,545.90" stroke="#34528c" stroke-width="1.3" fill="none" stroke-linejoin="miter"/>
<path d="M42.30,495.50 L57.30,495.50 L57.30,505.58 L64.80,505.58 L64.80,520.70 L72.30,520.70 L72.30,545.90" stroke="#2b3346" stroke-width="1.3" fill="none" stroke-linejoin="miter"/>
<line x1="42.30" y1="489.80" x2="42.30" y2="546.50" stroke="#2b2b2b" stroke-width="1.1"/>
<line x1="41.80" y1="545.90" x2="147.80" y2="545.90" stroke="#2b2b2b" stroke-width="1.3"/>
<line x1="39.30" y1="545.90" x2="42.30" y2="545.90" stroke="#2b2b2b" stroke-width="0.8"/>
<line x1="40.70" y1="543.38" x2="42.30" y2="543.38" stroke="#2b2b2b" stroke-width="0.8"/>
<line x1="40.70" y1="540.86" x2="42.30" y2="540.86" stroke="#2b2b2b" stroke-width="0.8"/>
<line x1="40.70" y1="538.34" x2="42.30" y2="538.34" stroke="#2b2b2b" stroke-width="0.8"/>
<line x1="40.70" y1="535.82" x2="42.30" y2="535.82" stroke="#2b2b2b" stroke-width="0.8"/>
<line x1="40.70" y1="533.30" x2="42.30" y2="533.30" stroke="#2b2b2b" stroke-width="0.8"/>
<line x1="40.70" y1="530.78" x2="42.30" y2="530.78" stroke="#2b2b2b" stroke-width="0.8"/>
<line x1="40.70" y1="528.26" x2="42.30" y2="528.26" stroke="#2b2b2b" stroke-width="0.8"/>
<line x1="40.70" y1="525.74" x2="42.30" y2="525.74" stroke="#2b2b2b" stroke-width="0.8"/>
<line x1="40.70" y1="523.22" x2="42.30" y2="523.22" stroke="#2b2b2b" stroke-width="0.8"/>
<line x1="39.30" y1="520.70" x2="42.30" y2="520.70" stroke="#2b2b2b" stroke-width="0.8"/>
<line x1="40.70" y1="518.18" x2="42.30" y2="518.18" stroke="#2b2b2b" stroke-width="0.8"/>
<line x1="40.70" y1="515.66" x2="42.30" y2="515.66" stroke="#2b2b2b" stroke-width="0.8"/>
<line x1="40.70" y1="513.14" x2="42.30" y2="513.14" stroke="#2b2b2b" stroke-width="0.8"/>
<line x1="40.70" y1="510.62" x2="42.30" y2="510.62" stroke="#2b2b2b" stroke-width="0.8"/>
<line x1="40.70" y1="508.10" x2="42.30" y2="508.10" stroke="#2b2b2b" stroke-width="0.8"/>
<line x1="40.70" y1="505.58" x2="42.30" y2="505.58" stroke="#2b2b2b" stroke-width="0.8"/>
<line x1="40.70" y1="503.06" x2="42.30" y2="503.06" stroke="#2b2b2b" stroke-width="0.8"/>
<line x1="40.70" y1="500.54" x2="42.30" y2="500.54" stroke="#2b2b2b" stroke-width="0.8"/>
<line x1="40.70" y1="498.02" x2="42.30" y2="498.02" stroke="#2b2b2b" stroke-width="0.8"/>
<line x1="39.30" y1="495.50" x2="42.30" y2="495.50" stroke="#2b2b2b" stroke-width="0.8"/>
<text x="36.80" y="548.50" font-size="7.6" text-anchor="end" fill="#3c3c3c" textLength="3.30" lengthAdjust="spacingAndGlyphs" stroke="#3c3c3c" stroke-width="0.15">0</text>
<text x="36.80" y="523.30" font-size="7.6" text-anchor="end" fill="#3c3c3c" textLength="6.60" lengthAdjust="spacingAndGlyphs" stroke="#3c3c3c" stroke-width="0.15">50</text>
<text x="36.80" y="498.10" font-size="7.6" text-anchor="end" fill="#3c3c3c" textLength="9.90" lengthAdjust="spacingAndGlyphs" stroke="#3c3c3c" stroke-width="0.15">100</text>
<line x1="42.30" y1="545.90" x2="42.30" y2="548.10" stroke="#2b2b2b" stroke-width="0.9"/>
<line x1="57.30" y1="545.90" x2="57.30" y2="548.10" stroke="#2b2b2b" stroke-width="0.9"/>
<line x1="72.30" y1="545.90" x2="72.30" y2="548.10" stroke="#2b2b2b" stroke-width="0.9"/>
<line x1="87.30" y1="545.90" x2="87.30" y2="548.10" stroke="#2b2b2b" stroke-width="0.9"/>
<line x1="102.30" y1="545.90" x2="102.30" y2="548.10" stroke="#2b2b2b" stroke-width="0.9"/>
<line x1="117.30" y1="545.90" x2="117.30" y2="548.10" stroke="#2b2b2b" stroke-width="0.9"/>
<line x1="132.30" y1="545.90" x2="132.30" y2="548.10" stroke="#2b2b2b" stroke-width="0.9"/>
<line x1="147.30" y1="545.90" x2="147.30" y2="548.10" stroke="#2b2b2b" stroke-width="0.9"/>
<text x="42.30" y="557.40" font-size="7.6" text-anchor="middle" fill="#3c3c3c" textLength="3.40" lengthAdjust="spacingAndGlyphs" stroke="#3c3c3c" stroke-width="0.15">0</text>
<text x="57.30" y="557.40" font-size="7.6" text-anchor="middle" fill="#3c3c3c" textLength="6.80" lengthAdjust="spacingAndGlyphs" stroke="#3c3c3c" stroke-width="0.15">24</text>
<text x="72.30" y="557.40" font-size="7.6" text-anchor="middle" fill="#3c3c3c" textLength="6.80" lengthAdjust="spacingAndGlyphs" stroke="#3c3c3c" stroke-width="0.15">48</text>
<text x="87.30" y="557.40" font-size="7.6" text-anchor="middle" fill="#3c3c3c" textLength="6.80" lengthAdjust="spacingAndGlyphs" stroke="#3c3c3c" stroke-width="0.15">72</text>
<text x="102.30" y="557.40" font-size="7.6" text-anchor="middle" fill="#3c3c3c" textLength="6.80" lengthAdjust="spacingAndGlyphs" stroke="#3c3c3c" stroke-width="0.15">96</text>
<text x="117.30" y="557.40" font-size="7.6" text-anchor="middle" fill="#3c3c3c" textLength="10.20" lengthAdjust="spacingAndGlyphs" stroke="#3c3c3c" stroke-width="0.15">120</text>
<text x="132.30" y="557.40" font-size="7.6" text-anchor="middle" fill="#3c3c3c" textLength="10.20" lengthAdjust="spacingAndGlyphs" stroke="#3c3c3c" stroke-width="0.15">144</text>
<text x="147.30" y="557.40" font-size="7.6" text-anchor="middle" fill="#3c3c3c" textLength="10.20" lengthAdjust="spacingAndGlyphs" stroke="#3c3c3c" stroke-width="0.15">168</text>
<line x1="113.00" y1="481.20" x2="119.00" y2="481.20" stroke="#2b3346" stroke-width="0.8"/>
<text x="121.80" y="483.40" font-size="6.6" fill="#555" textLength="10.50" lengthAdjust="spacingAndGlyphs">PBS</text>
<line x1="113.00" y1="486.20" x2="119.00" y2="486.20" stroke="#34528c" stroke-width="0.8"/>
<text x="121.80" y="488.40" font-size="6.6" fill="#555" textLength="17.50" lengthAdjust="spacingAndGlyphs">Class1</text>
<line x1="113.00" y1="491.10" x2="119.00" y2="491.10" stroke="#f2a93b" stroke-width="0.8"/>
<text x="121.80" y="493.30" font-size="6.6" fill="#555" textLength="17.50" lengthAdjust="spacingAndGlyphs">Class2</text>
<line x1="113.00" y1="496.00" x2="119.00" y2="496.00" stroke="#4fb04f" stroke-width="0.8"/>
<text x="121.80" y="498.20" font-size="6.6" fill="#555" textLength="17.50" lengthAdjust="spacingAndGlyphs">Class3</text>
<line x1="113.00" y1="500.90" x2="119.00" y2="500.90" stroke="#e2337f" stroke-width="0.8"/>
<text x="121.80" y="503.10" font-size="6.6" fill="#555" textLength="17.50" lengthAdjust="spacingAndGlyphs">Class4</text>
<text x="20.30" y="517.70" font-size="8.2" text-anchor="middle" fill="#3c3c3c" textLength="46.60" lengthAdjust="spacingAndGlyphs" transform="rotate(-90 20.30 517.70)">Percent survival</text>
<text x="96.80" y="568.80" font-size="8.4" text-anchor="middle" fill="#3c3c3c" textLength="29.50" lengthAdjust="spacingAndGlyphs">Time (hrs)</text>
<text x="182.40" y="474.30" font-size="11.0" fill="#111" font-weight="bold" textLength="8.70" lengthAdjust="spacingAndGlyphs" stroke="#111" stroke-width="0.3">K</text>
<text x="271.00" y="472.70" font-size="8.6" text-anchor="middle" textLength="23.50" lengthAdjust="spacingAndGlyphs"><tspan font-style="italic">E.coli</tspan></text>
<path d="M217.50,494.10 L241.50,494.10 L241.50,500.56 L265.50,500.56 L265.50,526.41 L277.50,526.41 L277.50,539.34 L289.50,539.34 L289.50,545.80" stroke="#e2337f" stroke-width="1.3" fill="none" stroke-linejoin="miter"/>
<path d="M217.50,494.10 L241.50,494.10 L241.50,500.56 L265.50,500.56 L265.50,507.02 L277.50,507.02 L277.50,532.88 L301.50,532.88 L301.50,545.80" stroke="#4fb04f" stroke-width="1.3" fill="none" stroke-linejoin="miter"/>
<path d="M217.50,494.10 L241.50,494.10 L241.50,500.56 L253.50,500.56 L253.50,513.49 L265.50,513.49 L265.50,545.80" stroke="#f2a93b" stroke-width="1.3" fill="none" stroke-linejoin="miter"/>
<path d="M217.50,494.10 L253.50,494.10 L253.50,500.56 L277.50,500.56 L277.50,513.49 L289.50,513.49 L289.50,519.95 L301.50,519.95 L301.50,526.41 L313.50,526.41 L313.50,539.34 L325.50,539.34 L325.50,545.80" stroke="#34528c" stroke-width="1.3" fill="none" stroke-linejoin="miter"/>
<path d="M217.50,494.10 L241.50,494.10 L241.50,507.02 L253.50,507.02 L253.50,545.80" stroke="#2b3346" stroke-width="1.3" fill="none" stroke-linejoin="miter"/>
<line x1="217.50" y1="488.90" x2="217.50" y2="546.40" stroke="#2b2b2b" stroke-width="1.1"/>
<line x1="217.00" y1="545.80" x2="326.00" y2="545.80" stroke="#2b2b2b" stroke-width="1.3"/>
<line x1="214.50" y1="545.80" x2="217.50" y2="545.80" stroke="#2b2b2b" stroke-width="0.8"/>
<line x1="215.90" y1="543.21" x2="217.50" y2="543.21" stroke="#2b2b2b" stroke-width="0.8"/>
<line x1="215.90" y1="540.63" x2="217.50" y2="540.63" stroke="#2b2b2b" stroke-width="0.8"/>
<line x1="215.90" y1="538.04" x2="217.50" y2="538.04" stroke="#2b2b2b" stroke-width="0.8"/>
<line x1="215.90" y1="535.46" x2="217.50" y2="535.46" stroke="#2b2b2b" stroke-width="0.8"/>
<line x1="215.90" y1="532.88" x2="217.50" y2="532.88" stroke="#2b2b2b" stroke-width="0.8"/>
<line x1="215.90" y1="530.29" x2="217.50" y2="530.29" stroke="#2b2b2b" stroke-width="0.8"/>
<line x1="215.90" y1="527.70" x2="217.50" y2="527.70" stroke="#2b2b2b" stroke-width="0.8"/>
<line x1="215.90" y1="525.12" x2="217.50" y2="525.12" stroke="#2b2b2b" stroke-width="0.8"/>
<line x1="215.90" y1="522.53" x2="217.50" y2="522.53" stroke="#2b2b2b" stroke-width="0.8"/>
<line x1="214.50" y1="519.95" x2="217.50" y2="519.95" stroke="#2b2b2b" stroke-width="0.8"/>
<line x1="215.90" y1="517.37" x2="217.50" y2="517.37" stroke="#2b2b2b" stroke-width="0.8"/>
<line x1="215.90" y1="514.78" x2="217.50" y2="514.78" stroke="#2b2b2b" stroke-width="0.8"/>
<line x1="215.90" y1="512.19" x2="217.50" y2="512.19" stroke="#2b2b2b" stroke-width="0.8"/>
<line x1="215.90" y1="509.61" x2="217.50" y2="509.61" stroke="#2b2b2b" stroke-width="0.8"/>
<line x1="215.90" y1="507.02" x2="217.50" y2="507.02" stroke="#2b2b2b" stroke-width="0.8"/>
<line x1="215.90" y1="504.44" x2="217.50" y2="504.44" stroke="#2b2b2b" stroke-width="0.8"/>
<line x1="215.90" y1="501.85" x2="217.50" y2="501.85" stroke="#2b2b2b" stroke-width="0.8"/>
<line x1="215.90" y1="499.27" x2="217.50" y2="499.27" stroke="#2b2b2b" stroke-width="0.8"/>
<line x1="215.90" y1="496.68" x2="217.50" y2="496.68" stroke="#2b2b2b" stroke-width="0.8"/>
<line x1="214.50" y1="494.10" x2="217.50" y2="494.10" stroke="#2b2b2b" stroke-width="0.8"/>
<text x="212.00" y="548.40" font-size="7.6" text-anchor="end" fill="#3c3c3c" textLength="3.30" lengthAdjust="spacingAndGlyphs" stroke="#3c3c3c" stroke-width="0.15">0</text>
<text x="212.00" y="522.55" font-size="7.6" text-anchor="end" fill="#3c3c3c" textLength="6.60" lengthAdjust="spacingAndGlyphs" stroke="#3c3c3c" stroke-width="0.15">50</text>
<text x="212.00" y="496.70" font-size="7.6" text-anchor="end" fill="#3c3c3c" textLength="9.90" lengthAdjust="spacingAndGlyphs" stroke="#3c3c3c" stroke-width="0.15">100</text>
<line x1="217.50" y1="545.80" x2="217.50" y2="548.00" stroke="#2b2b2b" stroke-width="0.9"/>
<line x1="241.50" y1="545.80" x2="241.50" y2="548.00" stroke="#2b2b2b" stroke-width="0.9"/>
<line x1="265.50" y1="545.80" x2="265.50" y2="548.00" stroke="#2b2b2b" stroke-width="0.9"/>
<line x1="289.50" y1="545.80" x2="289.50" y2="548.00" stroke="#2b2b2b" stroke-width="0.9"/>
<line x1="313.50" y1="545.80" x2="313.50" y2="548.00" stroke="#2b2b2b" stroke-width="0.9"/>
<text x="217.50" y="557.40" font-size="7.6" text-anchor="middle" fill="#3c3c3c" textLength="3.40" lengthAdjust="spacingAndGlyphs" stroke="#3c3c3c" stroke-width="0.15">0</text>
<text x="241.50" y="557.40" font-size="7.6" text-anchor="middle" fill="#3c3c3c" textLength="6.80" lengthAdjust="spacingAndGlyphs" stroke="#3c3c3c" stroke-width="0.15">24</text>
<text x="265.50" y="557.40" font-size="7.6" text-anchor="middle" fill="#3c3c3c" textLength="6.80" lengthAdjust="spacingAndGlyphs" stroke="#3c3c3c" stroke-width="0.15">48</text>
<text x="289.50" y="557.40" font-size="7.6" text-anchor="middle" fill="#3c3c3c" textLength="6.80" lengthAdjust="spacingAndGlyphs" stroke="#3c3c3c" stroke-width="0.15">72</text>
<text x="313.50" y="557.40" font-size="7.6" text-anchor="middle" fill="#3c3c3c" textLength="6.80" lengthAdjust="spacingAndGlyphs" stroke="#3c3c3c" stroke-width="0.15">96</text>
<line x1="288.00" y1="481.20" x2="294.00" y2="481.20" stroke="#2b3346" stroke-width="0.8"/>
<text x="296.80" y="483.40" font-size="6.6" fill="#555" textLength="10.50" lengthAdjust="spacingAndGlyphs">PBS</text>
<line x1="288.00" y1="486.20" x2="294.00" y2="486.20" stroke="#34528c" stroke-width="0.8"/>
<text x="296.80" y="488.40" font-size="6.6" fill="#555" textLength="17.50" lengthAdjust="spacingAndGlyphs">Class1</text>
<line x1="288.00" y1="491.10" x2="294.00" y2="491.10" stroke="#f2a93b" stroke-width="0.8"/>
<text x="296.80" y="493.30" font-size="6.6" fill="#555" textLength="17.50" lengthAdjust="spacingAndGlyphs">Class2</text>
<line x1="288.00" y1="496.00" x2="294.00" y2="496.00" stroke="#4fb04f" stroke-width="0.8"/>
<text x="296.80" y="498.20" font-size="6.6" fill="#555" textLength="17.50" lengthAdjust="spacingAndGlyphs">Class3</text>
<line x1="288.00" y1="500.90" x2="294.00" y2="500.90" stroke="#e2337f" stroke-width="0.8"/>
<text x="296.80" y="503.10" font-size="6.6" fill="#555" textLength="17.50" lengthAdjust="spacingAndGlyphs">Class4</text>
<text x="196.00" y="517.30" font-size="8.2" text-anchor="middle" fill="#3c3c3c" textLength="45.80" lengthAdjust="spacingAndGlyphs" transform="rotate(-90 196.00 517.30)">Percent survival</text>
<text x="271.80" y="568.80" font-size="8.4" text-anchor="middle" fill="#3c3c3c" textLength="29.80" lengthAdjust="spacingAndGlyphs">Time (hrs)</text>
<text x="356.90" y="473.70" font-size="11.0" fill="#111" font-weight="bold" textLength="6.40" lengthAdjust="spacingAndGlyphs" stroke="#111" stroke-width="0.3">L</text>
<text x="446.50" y="472.70" font-size="8.6" text-anchor="middle" textLength="31.30" lengthAdjust="spacingAndGlyphs"><tspan font-style="italic">S.aureus</tspan></text>
<path d="M391.40,494.20 L404.42,494.20 L404.42,500.65 L443.48,500.65 L443.48,513.55 L469.52,513.55 L469.52,539.35 L482.54,539.35 L482.54,545.80" stroke="#e2337f" stroke-width="1.3" fill="none" stroke-linejoin="miter"/>
<path d="M391.40,494.20 L417.44,494.20 L417.44,507.10 L443.48,507.10 L443.48,520.00 L456.50,520.00 L456.50,526.45 L469.52,526.45 L469.52,545.80" stroke="#4fb04f" stroke-width="1.3" fill="none" stroke-linejoin="miter"/>
<path d="M391.40,494.20 L417.44,494.20 L417.44,507.10 L430.46,507.10 L430.46,520.00 L443.48,520.00 L443.48,539.35 L456.50,539.35 L456.50,545.80" stroke="#f2a93b" stroke-width="1.3" fill="none" stroke-linejoin="miter"/>
<path d="M391.40,494.20 L443.48,494.20 L443.48,507.10 L456.50,507.10 L456.50,513.55 L469.52,513.55 L469.52,520.00 L482.54,520.00 L482.54,526.45 L495.56,526.45 L495.56,545.80" stroke="#34528c" stroke-width="1.3" fill="none" stroke-linejoin="miter"/>
<path d="M391.40,494.20 L417.44,494.20 L417.44,520.00 L430.46,520.00 L430.46,545.80" stroke="#2b3346" stroke-width="1.3" fill="none" stroke-linejoin="miter"/>
<line x1="391.40" y1="489.00" x2="391.40" y2="546.40" stroke="#2b2b2b" stroke-width="1.1"/>
<line x1="390.90" y1="545.80" x2="496.06" y2="545.80" stroke="#2b2b2b" stroke-width="1.3"/>
<line x1="388.40" y1="545.80" x2="391.40" y2="545.80" stroke="#2b2b2b" stroke-width="0.8"/>
<line x1="389.80" y1="543.22" x2="391.40" y2="543.22" stroke="#2b2b2b" stroke-width="0.8"/>
<line x1="389.80" y1="540.64" x2="391.40" y2="540.64" stroke="#2b2b2b" stroke-width="0.8"/>
<line x1="389.80" y1="538.06" x2="391.40" y2="538.06" stroke="#2b2b2b" stroke-width="0.8"/>
<line x1="389.80" y1="535.48" x2="391.40" y2="535.48" stroke="#2b2b2b" stroke-width="0.8"/>
<line x1="389.80" y1="532.90" x2="391.40" y2="532.90" stroke="#2b2b2b" stroke-width="0.8"/>
<line x1="389.80" y1="530.32" x2="391.40" y2="530.32" stroke="#2b2b2b" stroke-width="0.8"/>
<line x1="389.80" y1="527.74" x2="391.40" y2="527.74" stroke="#2b2b2b" stroke-width="0.8"/>
<line x1="389.80" y1="525.16" x2="391.40" y2="525.16" stroke="#2b2b2b" stroke-width="0.8"/>
<line x1="389.80" y1="522.58" x2="391.40" y2="522.58" stroke="#2b2b2b" stroke-width="0.8"/>
<line x1="388.40" y1="520.00" x2="391.40" y2="520.00" stroke="#2b2b2b" stroke-width="0.8"/>
<line x1="389.80" y1="517.42" x2="391.40" y2="517.42" stroke="#2b2b2b" stroke-width="0.8"/>
<line x1="389.80" y1="514.84" x2="391.40" y2="514.84" stroke="#2b2b2b" stroke-width="0.8"/>
<line x1="389.80" y1="512.26" x2="391.40" y2="512.26" stroke="#2b2b2b" stroke-width="0.8"/>
<line x1="389.80" y1="509.68" x2="391.40" y2="509.68" stroke="#2b2b2b" stroke-width="0.8"/>
<line x1="389.80" y1="507.10" x2="391.40" y2="507.10" stroke="#2b2b2b" stroke-width="0.8"/>
<line x1="389.80" y1="504.52" x2="391.40" y2="504.52" stroke="#2b2b2b" stroke-width="0.8"/>
<line x1="389.80" y1="501.94" x2="391.40" y2="501.94" stroke="#2b2b2b" stroke-width="0.8"/>
<line x1="389.80" y1="499.36" x2="391.40" y2="499.36" stroke="#2b2b2b" stroke-width="0.8"/>
<line x1="389.80" y1="496.78" x2="391.40" y2="496.78" stroke="#2b2b2b" stroke-width="0.8"/>
<line x1="388.40" y1="494.20" x2="391.40" y2="494.20" stroke="#2b2b2b" stroke-width="0.8"/>
<text x="385.90" y="548.40" font-size="7.6" text-anchor="end" fill="#3c3c3c" textLength="3.30" lengthAdjust="spacingAndGlyphs" stroke="#3c3c3c" stroke-width="0.15">0</text>
<text x="385.90" y="522.60" font-size="7.6" text-anchor="end" fill="#3c3c3c" textLength="6.60" lengthAdjust="spacingAndGlyphs" stroke="#3c3c3c" stroke-width="0.15">50</text>
<text x="385.90" y="496.80" font-size="7.6" text-anchor="end" fill="#3c3c3c" textLength="9.90" lengthAdjust="spacingAndGlyphs" stroke="#3c3c3c" stroke-width="0.15">100</text>
<line x1="391.40" y1="545.80" x2="391.40" y2="548.00" stroke="#2b2b2b" stroke-width="0.9"/>
<line x1="417.44" y1="545.80" x2="417.44" y2="548.00" stroke="#2b2b2b" stroke-width="0.9"/>
<line x1="443.48" y1="545.80" x2="443.48" y2="548.00" stroke="#2b2b2b" stroke-width="0.9"/>
<line x1="469.52" y1="545.80" x2="469.52" y2="548.00" stroke="#2b2b2b" stroke-width="0.9"/>
<line x1="495.56" y1="545.80" x2="495.56" y2="548.00" stroke="#2b2b2b" stroke-width="0.9"/>
<text x="391.40" y="557.40" font-size="7.6" text-anchor="middle" fill="#3c3c3c" textLength="3.40" lengthAdjust="spacingAndGlyphs" stroke="#3c3c3c" stroke-width="0.15">0</text>
<text x="417.44" y="557.40" font-size="7.6" text-anchor="middle" fill="#3c3c3c" textLength="6.80" lengthAdjust="spacingAndGlyphs" stroke="#3c3c3c" stroke-width="0.15">24</text>
<text x="443.48" y="557.40" font-size="7.6" text-anchor="middle" fill="#3c3c3c" textLength="6.80" lengthAdjust="spacingAndGlyphs" stroke="#3c3c3c" stroke-width="0.15">48</text>
<text x="469.52" y="557.40" font-size="7.6" text-anchor="middle" fill="#3c3c3c" textLength="6.80" lengthAdjust="spacingAndGlyphs" stroke="#3c3c3c" stroke-width="0.15">72</text>
<text x="495.56" y="557.40" font-size="7.6" text-anchor="middle" fill="#3c3c3c" textLength="6.80" lengthAdjust="spacingAndGlyphs" stroke="#3c3c3c" stroke-width="0.15">96</text>
<line x1="463.70" y1="481.20" x2="469.70" y2="481.20" stroke="#2b3346" stroke-width="0.8"/>
<text x="472.50" y="483.40" font-size="6.6" fill="#555" textLength="10.50" lengthAdjust="spacingAndGlyphs">PBS</text>
<line x1="463.70" y1="486.20" x2="469.70" y2="486.20" stroke="#34528c" stroke-width="0.8"/>
<text x="472.50" y="488.40" font-size="6.6" fill="#555" textLength="17.50" lengthAdjust="spacingAndGlyphs">Class1</text>
<line x1="463.70" y1="491.10" x2="469.70" y2="491.10" stroke="#f2a93b" stroke-width="0.8"/>
<text x="472.50" y="493.30" font-size="6.6" fill="#555" textLength="17.50" lengthAdjust="spacingAndGlyphs">Class2</text>
<line x1="463.70" y1="496.00" x2="469.70" y2="496.00" stroke="#4fb04f" stroke-width="0.8"/>
<text x="472.50" y="498.20" font-size="6.6" fill="#555" textLength="17.50" lengthAdjust="spacingAndGlyphs">Class3</text>
<line x1="463.70" y1="500.90" x2="469.70" y2="500.90" stroke="#e2337f" stroke-width="0.8"/>
<text x="472.50" y="503.10" font-size="6.6" fill="#555" textLength="17.50" lengthAdjust="spacingAndGlyphs">Class4</text>
<text x="367.30" y="517.50" font-size="8.2" text-anchor="middle" fill="#3c3c3c" textLength="46.00" lengthAdjust="spacingAndGlyphs" transform="rotate(-90 367.30 517.50)">Percent survival</text>
<text x="446.00" y="568.80" font-size="8.4" text-anchor="middle" fill="#3c3c3c" textLength="30.30" lengthAdjust="spacingAndGlyphs">Time (hrs)</text>
<line x1="145.30" y1="478.80" x2="145.30" y2="502.50" stroke="#555" stroke-width="0.9"/>
<line x1="146.90" y1="478.80" x2="146.90" y2="502.50" stroke="#555" stroke-width="0.9"/>
<line x1="148.30" y1="478.80" x2="148.30" y2="497.20" stroke="#555" stroke-width="0.9"/>
<line x1="150.50" y1="485.40" x2="150.50" y2="491.90" stroke="#555" stroke-width="1.0"/>
<circle cx="143.60" cy="481.00" r="0.55" fill="#555"/>
<circle cx="143.60" cy="484.00" r="0.55" fill="#555"/>
<circle cx="143.60" cy="487.00" r="0.55" fill="#555"/>
<circle cx="153.00" cy="487.00" r="0.55" fill="#555"/>
<circle cx="153.00" cy="490.00" r="0.55" fill="#555"/>
<line x1="157.40" y1="485.00" x2="157.40" y2="502.50" stroke="#555" stroke-width="1.0"/>
<line x1="160.40" y1="485.00" x2="160.40" y2="502.50" stroke="#555" stroke-width="1.0"/>
<line x1="162.00" y1="485.00" x2="162.00" y2="497.00" stroke="#555" stroke-width="0.8"/>
<rect x="157.40" y="488.00" width="4.60" height="9.00" fill="#8a8a8a"/>
<circle cx="164.50" cy="492.90" r="0.6" fill="#555"/>
<line x1="317.50" y1="479.20" x2="317.50" y2="487.30" stroke="#555" stroke-width="0.9"/>
<line x1="319.30" y1="484.10" x2="319.30" y2="492.50" stroke="#555" stroke-width="0.9"/>
<circle cx="321.30" cy="485.00" r="0.55" fill="#555"/>
<circle cx="321.30" cy="488.15" r="0.55" fill="#555"/>
<circle cx="321.30" cy="491.30" r="0.55" fill="#555"/>
<line x1="323.00" y1="479.20" x2="323.00" y2="502.50" stroke="#555" stroke-width="0.9"/>
<line x1="324.70" y1="479.20" x2="324.70" y2="502.50" stroke="#555" stroke-width="0.9"/>
<line x1="326.30" y1="479.20" x2="326.30" y2="497.20" stroke="#555" stroke-width="0.9"/>
<line x1="328.50" y1="484.50" x2="328.50" y2="497.50" stroke="#555" stroke-width="0.9"/>
<line x1="330.60" y1="484.50" x2="330.60" y2="502.50" stroke="#555" stroke-width="0.9"/>
<circle cx="333.20" cy="491.60" r="0.55" fill="#555"/>
<circle cx="333.20" cy="495.00" r="0.55" fill="#555"/>
<line x1="335.70" y1="489.10" x2="335.70" y2="502.50" stroke="#555" stroke-width="0.9"/>
<circle cx="338.50" cy="491.90" r="0.6" fill="#555"/>
<line x1="492.50" y1="480.20" x2="492.50" y2="490.80" stroke="#555" stroke-width="0.9"/>
<circle cx="495.60" cy="481.50" r="0.55" fill="#555"/>
<circle cx="495.60" cy="484.40" r="0.55" fill="#555"/>
<circle cx="495.60" cy="487.30" r="0.55" fill="#555"/>
<line x1="498.80" y1="479.80" x2="498.80" y2="502.90" stroke="#555" stroke-width="0.9"/>
<line x1="501.20" y1="480.20" x2="501.20" y2="497.70" stroke="#555" stroke-width="0.9"/>
<line x1="503.50" y1="483.80" x2="503.50" y2="491.90" stroke="#555" stroke-width="0.9"/>
<circle cx="505.80" cy="487.30" r="0.55" fill="#555"/>
<circle cx="505.80" cy="491.30" r="0.55" fill="#555"/>
<line x1="507.80" y1="479.80" x2="507.80" y2="502.90" stroke="#555" stroke-width="0.9"/>
<line x1="509.20" y1="482.70" x2="509.20" y2="497.70" stroke="#555" stroke-width="0.9"/>
<circle cx="511.50" cy="489.60" r="0.6" fill="#555"/>
<text x="12.10" y="16.20" font-size="11.0" fill="#111" font-weight="bold" textLength="9.40" lengthAdjust="spacingAndGlyphs" stroke="#111" stroke-width="0.3">A</text>
<text x="120.80" y="40.30" font-size="6.6" text-anchor="middle" fill="#333" textLength="84.80" lengthAdjust="spacingAndGlyphs">Murine primary cells from BM</text>
<line x1="34.20" y1="43.60" x2="208.50" y2="43.60" stroke="#333" stroke-width="1.1"/>
<text x="57.70" y="52.60" font-size="6.6" text-anchor="middle" fill="#333" textLength="10.40" lengthAdjust="spacingAndGlyphs">WT</text>
<text x="121.70" y="52.60" font-size="6.6" text-anchor="middle" fill="#333" textLength="41.50" lengthAdjust="spacingAndGlyphs"><tspan font-style="italic">E.coli</tspan> infected</text>
<text x="185.00" y="52.60" font-size="6.6" text-anchor="middle" fill="#333" textLength="48.20" lengthAdjust="spacingAndGlyphs"><tspan font-style="italic">S.aureus</tspan> infected</text>
<rect x="67.94" y="75.72" width="0.9" height="0.9" fill="#5a4fd0" opacity="0.38"/>
<rect x="64.45" y="76.28" width="0.9" height="0.9" fill="#5a4fd0" opacity="0.76"/>
<rect x="68.99" y="74.52" width="0.9" height="0.9" fill="#2a3fb8" opacity="0.38"/>
<rect x="71.96" y="72.53" width="0.9" height="0.9" fill="#8a7ae8" opacity="0.41"/>
<rect x="71.04" y="75.97" width="0.9" height="0.9" fill="#5a4fd0" opacity="0.61"/>
<rect x="63.15" y="83.47" width="0.9" height="0.9" fill="#5a4fd0" opacity="0.60"/>
<rect x="71.65" y="73.46" width="0.9" height="0.9" fill="#8a7ae8" opacity="0.40"/>
<rect x="68.48" y="79.20" width="0.9" height="0.9" fill="#3b4fc8" opacity="0.40"/>
<rect x="65.55" y="75.15" width="0.9" height="0.9" fill="#5a4fd0" opacity="0.60"/>
<rect x="69.33" y="73.32" width="0.9" height="0.9" fill="#3b4fc8" opacity="0.57"/>
<rect x="61.59" y="78.26" width="0.9" height="0.9" fill="#2a3fb8" opacity="0.61"/>
<rect x="65.61" y="76.81" width="0.9" height="0.9" fill="#3b4fc8" opacity="0.66"/>
<rect x="70.27" y="76.36" width="0.9" height="0.9" fill="#8a7ae8" opacity="0.57"/>
<rect x="67.38" y="77.49" width="0.9" height="0.9" fill="#8a7ae8" opacity="0.79"/>
<rect x="71.77" y="73.13" width="0.9" height="0.9" fill="#7a6ae0" opacity="0.42"/>
<rect x="67.06" y="74.85" width="0.9" height="0.9" fill="#5a4fd0" opacity="0.69"/>
<rect x="60.24" y="77.56" width="0.9" height="0.9" fill="#7a6ae0" opacity="0.50"/>
<rect x="67.14" y="77.81" width="0.9" height="0.9" fill="#2a3fb8" opacity="0.38"/>
<rect x="70.98" y="72.93" width="0.9" height="0.9" fill="#5a4fd0" opacity="0.38"/>
<rect x="64.29" y="72.62" width="0.9" height="0.9" fill="#2a3fb8" opacity="0.48"/>
<rect x="65.71" y="79.11" width="0.9" height="0.9" fill="#5a4fd0" opacity="0.77"/>
<rect x="66.83" y="78.52" width="0.9" height="0.9" fill="#2a3fb8" opacity="0.38"/>
<rect x="67.37" y="72.82" width="0.9" height="0.9" fill="#3b4fc8" opacity="0.53"/>
<rect x="70.56" y="69.94" width="0.9" height="0.9" fill="#3b4fc8" opacity="0.55"/>
<rect x="60.18" y="78.50" width="0.9" height="0.9" fill="#2a3fb8" opacity="0.74"/>
<rect x="69.00" y="76.48" width="0.9" height="0.9" fill="#7a6ae0" opacity="0.66"/>
<rect x="66.97" y="76.48" width="0.9" height="0.9" fill="#5a4fd0" opacity="0.43"/>
<rect x="69.45" y="75.15" width="0.9" height="0.9" fill="#2a3fb8" opacity="0.72"/>
<rect x="70.35" y="74.45" width="0.9" height="0.9" fill="#3b4fc8" opacity="0.54"/>
<rect x="66.49" y="78.36" width="0.9" height="0.9" fill="#3b4fc8" opacity="0.66"/>
<rect x="63.03" y="77.73" width="0.9" height="0.9" fill="#5a4fd0" opacity="0.56"/>
<rect x="70.98" y="65.67" width="0.9" height="0.9" fill="#8a7ae8" opacity="0.53"/>
<rect x="67.15" y="75.62" width="0.9" height="0.9" fill="#2a3fb8" opacity="0.38"/>
<rect x="70.60" y="72.73" width="0.9" height="0.9" fill="#3b4fc8" opacity="0.40"/>
<rect x="66.27" y="74.56" width="0.9" height="0.9" fill="#8a7ae8" opacity="0.42"/>
<rect x="71.54" y="72.87" width="0.9" height="0.9" fill="#5a4fd0" opacity="0.38"/>
<rect x="70.38" y="75.06" width="0.9" height="0.9" fill="#7a6ae0" opacity="0.78"/>
<rect x="63.78" y="75.32" width="0.9" height="0.9" fill="#5a4fd0" opacity="0.73"/>
<rect x="71.78" y="70.67" width="0.9" height="0.9" fill="#2a3fb8" opacity="0.49"/>
<rect x="73.65" y="73.54" width="0.9" height="0.9" fill="#7a6ae0" opacity="0.57"/>
<rect x="64.71" y="73.08" width="0.9" height="0.9" fill="#3b4fc8" opacity="0.78"/>
<rect x="65.93" y="75.41" width="0.9" height="0.9" fill="#8a7ae8" opacity="0.76"/>
<rect x="66.80" y="72.27" width="0.9" height="0.9" fill="#5a4fd0" opacity="0.66"/>
<rect x="69.30" y="76.02" width="0.9" height="0.9" fill="#3b4fc8" opacity="0.51"/>
<rect x="70.71" y="75.74" width="0.9" height="0.9" fill="#8a7ae8" opacity="0.50"/>
<rect x="71.96" y="76.56" width="0.9" height="0.9" fill="#3b4fc8" opacity="0.71"/>
<rect x="67.96" y="69.17" width="0.9" height="0.9" fill="#3b4fc8" opacity="0.44"/>
<rect x="62.54" y="78.82" width="0.9" height="0.9" fill="#5a4fd0" opacity="0.71"/>
<rect x="65.96" y="76.09" width="0.9" height="0.9" fill="#8a7ae8" opacity="0.78"/>
<rect x="61.57" y="81.90" width="0.9" height="0.9" fill="#7a6ae0" opacity="0.78"/>
<rect x="67.25" y="76.36" width="0.9" height="0.9" fill="#3b4fc8" opacity="0.56"/>
<rect x="67.50" y="77.61" width="0.9" height="0.9" fill="#8a7ae8" opacity="0.73"/>
<rect x="63.33" y="78.53" width="0.9" height="0.9" fill="#5a4fd0" opacity="0.73"/>
<rect x="71.58" y="73.21" width="0.9" height="0.9" fill="#3b4fc8" opacity="0.57"/>
<rect x="73.19" y="74.83" width="0.9" height="0.9" fill="#7a6ae0" opacity="0.39"/>
<rect x="72.35" y="68.62" width="0.9" height="0.9" fill="#2a3fb8" opacity="0.53"/>
<rect x="72.38" y="68.60" width="0.9" height="0.9" fill="#3b4fc8" opacity="0.80"/>
<rect x="72.91" y="70.63" width="0.9" height="0.9" fill="#2a3fb8" opacity="0.71"/>
<rect x="74.31" y="73.56" width="0.9" height="0.9" fill="#2a3fb8" opacity="0.65"/>
<rect x="67.07" y="78.10" width="0.9" height="0.9" fill="#3b4fc8" opacity="0.36"/>
<rect x="67.23" y="69.64" width="0.9" height="0.9" fill="#5a4fd0" opacity="0.59"/>
<rect x="70.67" y="70.35" width="0.9" height="0.9" fill="#3b4fc8" opacity="0.72"/>
<rect x="69.82" y="74.88" width="0.9" height="0.9" fill="#7a6ae0" opacity="0.58"/>
<rect x="66.84" y="72.08" width="0.9" height="0.9" fill="#8a7ae8" opacity="0.54"/>
<rect x="75.73" y="72.77" width="0.9" height="0.9" fill="#7a6ae0" opacity="0.75"/>
<rect x="62.17" y="73.78" width="0.9" height="0.9" fill="#8a7ae8" opacity="0.54"/>
<rect x="70.60" y="69.92" width="0.9" height="0.9" fill="#8a7ae8" opacity="0.42"/>
<rect x="60.80" y="79.60" width="0.9" height="0.9" fill="#3b4fc8" opacity="0.62"/>
<rect x="67.42" y="72.66" width="0.9" height="0.9" fill="#3b4fc8" opacity="0.56"/>
<rect x="65.29" y="72.16" width="0.9" height="0.9" fill="#7a6ae0" opacity="0.66"/>
<rect x="58.18" y="88.68" width="0.9" height="0.9" fill="#5a4fd0" opacity="0.75"/>
<rect x="62.53" y="91.37" width="0.9" height="0.9" fill="#5a4fd0" opacity="0.70"/>
<rect x="57.79" y="89.63" width="0.9" height="0.9" fill="#5a4fd0" opacity="0.55"/>
<rect x="58.74" y="85.37" width="0.9" height="0.9" fill="#8a7ae8" opacity="0.44"/>
<rect x="60.49" y="97.04" width="0.9" height="0.9" fill="#2a3fb8" opacity="0.58"/>
<rect x="61.04" y="97.30" width="0.9" height="0.9" fill="#7a6ae0" opacity="0.77"/>
<rect x="62.31" y="87.48" width="0.9" height="0.9" fill="#2a3fb8" opacity="0.41"/>
<rect x="62.95" y="94.49" width="0.9" height="0.9" fill="#5a4fd0" opacity="0.65"/>
<rect x="59.44" y="91.81" width="0.9" height="0.9" fill="#7a6ae0" opacity="0.70"/>
<rect x="62.16" y="87.90" width="0.9" height="0.9" fill="#7a6ae0" opacity="0.41"/>
<rect x="65.85" y="79.45" width="0.9" height="0.9" fill="#3b4fc8" opacity="0.69"/>
<rect x="65.32" y="96.96" width="0.9" height="0.9" fill="#3b4fc8" opacity="0.80"/>
<rect x="61.73" y="86.91" width="0.9" height="0.9" fill="#2a3fb8" opacity="0.80"/>
<rect x="58.85" y="93.57" width="0.9" height="0.9" fill="#7a6ae0" opacity="0.49"/>
<rect x="60.91" y="88.83" width="0.9" height="0.9" fill="#8a7ae8" opacity="0.56"/>
<rect x="60.29" y="84.34" width="0.9" height="0.9" fill="#8a7ae8" opacity="0.63"/>
<rect x="60.09" y="89.83" width="0.9" height="0.9" fill="#3b4fc8" opacity="0.79"/>
<rect x="62.55" y="92.88" width="0.9" height="0.9" fill="#5a4fd0" opacity="0.76"/>
<rect x="62.75" y="99.16" width="0.9" height="0.9" fill="#2a3fb8" opacity="0.73"/>
<rect x="58.29" y="77.04" width="0.9" height="0.9" fill="#2a3fb8" opacity="0.42"/>
<rect x="63.84" y="86.21" width="0.9" height="0.9" fill="#7a6ae0" opacity="0.39"/>
<rect x="64.57" y="93.24" width="0.9" height="0.9" fill="#2a3fb8" opacity="0.75"/>
<rect x="60.95" y="91.10" width="0.9" height="0.9" fill="#5a4fd0" opacity="0.71"/>
<rect x="65.26" y="95.93" width="0.9" height="0.9" fill="#5a4fd0" opacity="0.47"/>
<rect x="61.27" y="90.63" width="0.9" height="0.9" fill="#8a7ae8" opacity="0.54"/>
<rect x="64.01" y="85.76" width="0.9" height="0.9" fill="#5a4fd0" opacity="0.59"/>
<rect x="61.09" y="92.88" width="0.9" height="0.9" fill="#3b4fc8" opacity="0.47"/>
<rect x="63.43" y="102.64" width="0.9" height="0.9" fill="#7a6ae0" opacity="0.59"/>
<rect x="61.74" y="96.27" width="0.9" height="0.9" fill="#3b4fc8" opacity="0.47"/>
<rect x="63.67" y="71.74" width="0.9" height="0.9" fill="#5a4fd0" opacity="0.36"/>
<rect x="60.66" y="82.45" width="0.9" height="0.9" fill="#3b4fc8" opacity="0.58"/>
<rect x="61.07" y="96.53" width="0.9" height="0.9" fill="#2a3fb8" opacity="0.65"/>
<rect x="55.98" y="86.42" width="0.9" height="0.9" fill="#8a7ae8" opacity="0.49"/>
<rect x="61.39" y="94.23" width="0.9" height="0.9" fill="#3b4fc8" opacity="0.72"/>
<rect x="60.05" y="81.78" width="0.9" height="0.9" fill="#2a3fb8" opacity="0.80"/>
<rect x="65.73" y="88.70" width="0.9" height="0.9" fill="#5a4fd0" opacity="0.38"/>
<rect x="60.89" y="85.40" width="0.9" height="0.9" fill="#3b4fc8" opacity="0.37"/>
<rect x="59.76" y="84.94" width="0.9" height="0.9" fill="#8a7ae8" opacity="0.65"/>
<rect x="60.63" y="94.38" width="0.9" height="0.9" fill="#7a6ae0" opacity="0.37"/>
<rect x="61.78" y="94.36" width="0.9" height="0.9" fill="#5a4fd0" opacity="0.47"/>
<rect x="144.42" y="71.13" width="0.9" height="0.9" fill="#8a7ae8" opacity="0.50"/>
<rect x="142.08" y="76.00" width="0.9" height="0.9" fill="#3b4fc8" opacity="0.51"/>
<rect x="137.92" y="74.03" width="0.9" height="0.9" fill="#2a3fb8" opacity="0.48"/>
<rect x="132.32" y="71.18" width="0.9" height="0.9" fill="#5a4fd0" opacity="0.39"/>
<rect x="134.91" y="71.71" width="0.9" height="0.9" fill="#8a7ae8" opacity="0.37"/>
<rect x="137.37" y="74.54" width="0.9" height="0.9" fill="#3b4fc8" opacity="0.39"/>
<rect x="141.56" y="71.68" width="0.9" height="0.9" fill="#3b4fc8" opacity="0.65"/>
<rect x="132.26" y="64.96" width="0.9" height="0.9" fill="#2a3fb8" opacity="0.69"/>
<rect x="133.14" y="68.83" width="0.9" height="0.9" fill="#7a6ae0" opacity="0.68"/>
<rect x="133.26" y="72.95" width="0.9" height="0.9" fill="#8a7ae8" opacity="0.63"/>
<rect x="133.26" y="65.81" width="0.9" height="0.9" fill="#3b4fc8" opacity="0.76"/>
<rect x="134.09" y="68.17" width="0.9" height="0.9" fill="#5a4fd0" opacity="0.72"/>
<rect x="126.70" y="69.21" width="0.9" height="0.9" fill="#3b4fc8" opacity="0.39"/>
<rect x="139.50" y="75.67" width="0.9" height="0.9" fill="#5a4fd0" opacity="0.52"/>
<rect x="132.77" y="74.44" width="0.9" height="0.9" fill="#5a4fd0" opacity="0.63"/>
<rect x="132.04" y="69.27" width="0.9" height="0.9" fill="#5a4fd0" opacity="0.56"/>
<rect x="142.40" y="78.46" width="0.9" height="0.9" fill="#8a7ae8" opacity="0.39"/>
<rect x="127.47" y="72.79" width="0.9" height="0.9" fill="#2a3fb8" opacity="0.46"/>
<rect x="136.81" y="75.59" width="0.9" height="0.9" fill="#3b4fc8" opacity="0.45"/>
<rect x="131.39" y="69.96" width="0.9" height="0.9" fill="#2a3fb8" opacity="0.38"/>
<rect x="136.78" y="72.02" width="0.9" height="0.9" fill="#5a4fd0" opacity="0.63"/>
<rect x="133.00" y="72.59" width="0.9" height="0.9" fill="#3b4fc8" opacity="0.50"/>
<rect x="130.44" y="68.37" width="0.9" height="0.9" fill="#8a7ae8" opacity="0.61"/>
<rect x="135.41" y="74.12" width="0.9" height="0.9" fill="#7a6ae0" opacity="0.79"/>
<rect x="136.27" y="75.85" width="0.9" height="0.9" fill="#2a3fb8" opacity="0.48"/>
<rect x="129.55" y="73.48" width="0.9" height="0.9" fill="#2a3fb8" opacity="0.70"/>
<rect x="139.04" y="73.76" width="0.9" height="0.9" fill="#7a6ae0" opacity="0.79"/>
<rect x="134.69" y="73.67" width="0.9" height="0.9" fill="#2a3fb8" opacity="0.38"/>
<rect x="121.08" y="73.40" width="0.9" height="0.9" fill="#7a6ae0" opacity="0.52"/>
<rect x="142.00" y="68.80" width="0.9" height="0.9" fill="#5a4fd0" opacity="0.61"/>
<rect x="137.07" y="78.26" width="0.9" height="0.9" fill="#7a6ae0" opacity="0.41"/>
<rect x="136.04" y="69.15" width="0.9" height="0.9" fill="#5a4fd0" opacity="0.67"/>
<rect x="135.00" y="83.54" width="0.9" height="0.9" fill="#2a3fb8" opacity="0.53"/>
<rect x="139.29" y="83.26" width="0.9" height="0.9" fill="#2a3fb8" opacity="0.53"/>
<rect x="133.41" y="69.38" width="0.9" height="0.9" fill="#2a3fb8" opacity="0.49"/>
<rect x="134.13" y="73.78" width="0.9" height="0.9" fill="#7a6ae0" opacity="0.73"/>
<rect x="140.66" y="81.04" width="0.9" height="0.9" fill="#5a4fd0" opacity="0.76"/>
<rect x="133.04" y="78.21" width="0.9" height="0.9" fill="#2a3fb8" opacity="0.53"/>
<rect x="135.09" y="72.69" width="0.9" height="0.9" fill="#2a3fb8" opacity="0.69"/>
<rect x="135.98" y="71.10" width="0.9" height="0.9" fill="#5a4fd0" opacity="0.73"/>
<rect x="131.92" y="84.28" width="0.9" height="0.9" fill="#3b4fc8" opacity="0.79"/>
<rect x="130.79" y="75.53" width="0.9" height="0.9" fill="#7a6ae0" opacity="0.70"/>
<rect x="133.13" y="74.48" width="0.9" height="0.9" fill="#2a3fb8" opacity="0.76"/>
<rect x="138.70" y="71.93" width="0.9" height="0.9" fill="#5a4fd0" opacity="0.37"/>
<rect x="133.52" y="69.10" width="0.9" height="0.9" fill="#3b4fc8" opacity="0.64"/>
<rect x="133.71" y="75.39" width="0.9" height="0.9" fill="#8a7ae8" opacity="0.41"/>
<rect x="130.39" y="74.72" width="0.9" height="0.9" fill="#7a6ae0" opacity="0.47"/>
<rect x="133.59" y="67.47" width="0.9" height="0.9" fill="#2a3fb8" opacity="0.65"/>
<rect x="132.40" y="79.45" width="0.9" height="0.9" fill="#2a3fb8" opacity="0.40"/>
<rect x="133.02" y="72.61" width="0.9" height="0.9" fill="#8a7ae8" opacity="0.76"/>
<rect x="131.18" y="74.06" width="0.9" height="0.9" fill="#7a6ae0" opacity="0.80"/>
<rect x="131.91" y="74.76" width="0.9" height="0.9" fill="#3b4fc8" opacity="0.46"/>
<rect x="136.32" y="79.10" width="0.9" height="0.9" fill="#7a6ae0" opacity="0.46"/>
<rect x="133.73" y="79.84" width="0.9" height="0.9" fill="#5a4fd0" opacity="0.69"/>
<rect x="130.47" y="76.42" width="0.9" height="0.9" fill="#8a7ae8" opacity="0.44"/>
<rect x="133.15" y="81.46" width="0.9" height="0.9" fill="#2a3fb8" opacity="0.47"/>
<rect x="136.03" y="73.53" width="0.9" height="0.9" fill="#8a7ae8" opacity="0.59"/>
<rect x="135.95" y="65.53" width="0.9" height="0.9" fill="#5a4fd0" opacity="0.47"/>
<rect x="134.04" y="78.55" width="0.9" height="0.9" fill="#2a3fb8" opacity="0.54"/>
<rect x="131.21" y="81.64" width="0.9" height="0.9" fill="#5a4fd0" opacity="0.41"/>
<rect x="127.94" y="77.46" width="0.9" height="0.9" fill="#2a3fb8" opacity="0.79"/>
<rect x="132.44" y="74.11" width="0.9" height="0.9" fill="#8a7ae8" opacity="0.73"/>
<rect x="136.98" y="73.41" width="0.9" height="0.9" fill="#5a4fd0" opacity="0.45"/>
<rect x="140.17" y="83.82" width="0.9" height="0.9" fill="#5a4fd0" opacity="0.77"/>
<rect x="132.98" y="67.61" width="0.9" height="0.9" fill="#2a3fb8" opacity="0.39"/>
<rect x="134.04" y="73.77" width="0.9" height="0.9" fill="#3b4fc8" opacity="0.45"/>
<rect x="139.05" y="70.87" width="0.9" height="0.9" fill="#7a6ae0" opacity="0.78"/>
<rect x="130.57" y="70.06" width="0.9" height="0.9" fill="#2a3fb8" opacity="0.66"/>
<rect x="135.16" y="75.11" width="0.9" height="0.9" fill="#8a7ae8" opacity="0.77"/>
<rect x="135.11" y="77.27" width="0.9" height="0.9" fill="#8a7ae8" opacity="0.35"/>
<rect x="113.33" y="85.31" width="0.9" height="0.9" fill="#7a6ae0" opacity="0.78"/>
<rect x="122.26" y="80.18" width="0.9" height="0.9" fill="#2a3fb8" opacity="0.59"/>
<rect x="126.95" y="89.57" width="0.9" height="0.9" fill="#2a3fb8" opacity="0.67"/>
<rect x="127.67" y="91.18" width="0.9" height="0.9" fill="#2a3fb8" opacity="0.75"/>
<rect x="126.89" y="88.03" width="0.9" height="0.9" fill="#3b4fc8" opacity="0.65"/>
<rect x="130.88" y="88.05" width="0.9" height="0.9" fill="#5a4fd0" opacity="0.66"/>
<rect x="127.16" y="84.42" width="0.9" height="0.9" fill="#2a3fb8" opacity="0.44"/>
<rect x="130.15" y="80.59" width="0.9" height="0.9" fill="#8a7ae8" opacity="0.38"/>
<rect x="124.99" y="90.11" width="0.9" height="0.9" fill="#3b4fc8" opacity="0.45"/>
<rect x="129.36" y="99.98" width="0.9" height="0.9" fill="#7a6ae0" opacity="0.40"/>
<rect x="123.59" y="84.23" width="0.9" height="0.9" fill="#3b4fc8" opacity="0.57"/>
<rect x="129.30" y="88.91" width="0.9" height="0.9" fill="#8a7ae8" opacity="0.42"/>
<rect x="125.56" y="92.58" width="0.9" height="0.9" fill="#8a7ae8" opacity="0.41"/>
<rect x="129.50" y="90.68" width="0.9" height="0.9" fill="#2a3fb8" opacity="0.55"/>
<rect x="127.08" y="84.94" width="0.9" height="0.9" fill="#5a4fd0" opacity="0.80"/>
<rect x="131.66" y="87.77" width="0.9" height="0.9" fill="#3b4fc8" opacity="0.64"/>
<rect x="123.01" y="88.95" width="0.9" height="0.9" fill="#7a6ae0" opacity="0.65"/>
<rect x="124.85" y="94.01" width="0.9" height="0.9" fill="#7a6ae0" opacity="0.55"/>
<rect x="129.41" y="91.53" width="0.9" height="0.9" fill="#5a4fd0" opacity="0.51"/>
<rect x="130.22" y="89.15" width="0.9" height="0.9" fill="#3b4fc8" opacity="0.52"/>
<rect x="128.45" y="84.88" width="0.9" height="0.9" fill="#2a3fb8" opacity="0.39"/>
<rect x="127.18" y="86.20" width="0.9" height="0.9" fill="#8a7ae8" opacity="0.76"/>
<rect x="129.50" y="95.35" width="0.9" height="0.9" fill="#2a3fb8" opacity="0.36"/>
<rect x="121.03" y="95.83" width="0.9" height="0.9" fill="#2a3fb8" opacity="0.37"/>
<rect x="129.58" y="90.47" width="0.9" height="0.9" fill="#5a4fd0" opacity="0.47"/>
<rect x="127.84" y="77.17" width="0.9" height="0.9" fill="#7a6ae0" opacity="0.51"/>
<rect x="122.32" y="102.81" width="0.9" height="0.9" fill="#5a4fd0" opacity="0.47"/>
<rect x="127.18" y="84.88" width="0.9" height="0.9" fill="#7a6ae0" opacity="0.48"/>
<rect x="126.92" y="82.06" width="0.9" height="0.9" fill="#5a4fd0" opacity="0.36"/>
<rect x="128.52" y="96.78" width="0.9" height="0.9" fill="#2a3fb8" opacity="0.78"/>
<rect x="125.41" y="92.98" width="0.9" height="0.9" fill="#2a3fb8" opacity="0.72"/>
<rect x="131.54" y="95.21" width="0.9" height="0.9" fill="#5a4fd0" opacity="0.71"/>
<rect x="127.40" y="78.87" width="0.9" height="0.9" fill="#3b4fc8" opacity="0.62"/>
<rect x="126.15" y="94.65" width="0.9" height="0.9" fill="#7a6ae0" opacity="0.70"/>
<rect x="123.56" y="85.93" width="0.9" height="0.9" fill="#2a3fb8" opacity="0.69"/>
<rect x="128.03" y="92.19" width="0.9" height="0.9" fill="#5a4fd0" opacity="0.57"/>
<rect x="125.44" y="89.02" width="0.9" height="0.9" fill="#2a3fb8" opacity="0.75"/>
<rect x="131.52" y="89.64" width="0.9" height="0.9" fill="#5a4fd0" opacity="0.44"/>
<rect x="116.18" y="98.53" width="0.9" height="0.9" fill="#2a3fb8" opacity="0.43"/>
<rect x="131.36" y="94.95" width="0.9" height="0.9" fill="#3b4fc8" opacity="0.69"/>
<rect x="131.81" y="82.73" width="0.9" height="0.9" fill="#5a4fd0" opacity="0.70"/>
<rect x="127.01" y="94.67" width="0.9" height="0.9" fill="#7a6ae0" opacity="0.52"/>
<rect x="127.78" y="86.01" width="0.9" height="0.9" fill="#3b4fc8" opacity="0.43"/>
<rect x="128.33" y="94.86" width="0.9" height="0.9" fill="#8a7ae8" opacity="0.43"/>
<rect x="131.15" y="91.81" width="0.9" height="0.9" fill="#3b4fc8" opacity="0.58"/>
<rect x="128.95" y="100.83" width="0.9" height="0.9" fill="#2a3fb8" opacity="0.80"/>
<rect x="132.09" y="94.08" width="0.9" height="0.9" fill="#3b4fc8" opacity="0.73"/>
<rect x="129.11" y="89.12" width="0.9" height="0.9" fill="#7a6ae0" opacity="0.45"/>
<rect x="133.79" y="92.53" width="0.9" height="0.9" fill="#8a7ae8" opacity="0.44"/>
<rect x="132.81" y="93.27" width="0.9" height="0.9" fill="#3b4fc8" opacity="0.55"/>
<rect x="195.62" y="81.92" width="0.9" height="0.9" fill="#5a4fd0" opacity="0.40"/>
<rect x="191.99" y="71.84" width="0.9" height="0.9" fill="#3b4fc8" opacity="0.37"/>
<rect x="195.44" y="76.02" width="0.9" height="0.9" fill="#7a6ae0" opacity="0.37"/>
<rect x="195.14" y="66.20" width="0.9" height="0.9" fill="#5a4fd0" opacity="0.72"/>
<rect x="193.16" y="77.09" width="0.9" height="0.9" fill="#8a7ae8" opacity="0.49"/>
<rect x="197.80" y="81.82" width="0.9" height="0.9" fill="#8a7ae8" opacity="0.57"/>
<rect x="190.77" y="78.89" width="0.9" height="0.9" fill="#8a7ae8" opacity="0.42"/>
<rect x="191.02" y="73.77" width="0.9" height="0.9" fill="#2a3fb8" opacity="0.66"/>
<rect x="193.59" y="76.75" width="0.9" height="0.9" fill="#7a6ae0" opacity="0.54"/>
<rect x="201.49" y="77.10" width="0.9" height="0.9" fill="#7a6ae0" opacity="0.54"/>
<rect x="201.93" y="75.78" width="0.9" height="0.9" fill="#7a6ae0" opacity="0.64"/>
<rect x="193.24" y="77.58" width="0.9" height="0.9" fill="#5a4fd0" opacity="0.55"/>
<rect x="196.95" y="76.64" width="0.9" height="0.9" fill="#5a4fd0" opacity="0.53"/>
<rect x="198.88" y="72.01" width="0.9" height="0.9" fill="#3b4fc8" opacity="0.41"/>
<rect x="197.84" y="75.71" width="0.9" height="0.9" fill="#2a3fb8" opacity="0.39"/>
<rect x="193.58" y="72.33" width="0.9" height="0.9" fill="#8a7ae8" opacity="0.43"/>
<rect x="194.80" y="76.94" width="0.9" height="0.9" fill="#3b4fc8" opacity="0.77"/>
<rect x="199.15" y="77.93" width="0.9" height="0.9" fill="#3b4fc8" opacity="0.49"/>
<rect x="196.54" y="73.98" width="0.9" height="0.9" fill="#2a3fb8" opacity="0.49"/>
<rect x="192.12" y="71.44" width="0.9" height="0.9" fill="#5a4fd0" opacity="0.76"/>
<rect x="191.25" y="69.88" width="0.9" height="0.9" fill="#3b4fc8" opacity="0.64"/>
<rect x="199.03" y="70.63" width="0.9" height="0.9" fill="#8a7ae8" opacity="0.73"/>
<rect x="197.06" y="72.77" width="0.9" height="0.9" fill="#3b4fc8" opacity="0.37"/>
<rect x="197.89" y="74.12" width="0.9" height="0.9" fill="#7a6ae0" opacity="0.41"/>
<rect x="196.10" y="81.43" width="0.9" height="0.9" fill="#3b4fc8" opacity="0.37"/>
<rect x="190.55" y="72.43" width="0.9" height="0.9" fill="#5a4fd0" opacity="0.65"/>
<rect x="194.44" y="78.55" width="0.9" height="0.9" fill="#2a3fb8" opacity="0.60"/>
<rect x="193.91" y="72.55" width="0.9" height="0.9" fill="#2a3fb8" opacity="0.49"/>
<rect x="196.02" y="78.97" width="0.9" height="0.9" fill="#7a6ae0" opacity="0.55"/>
<rect x="195.30" y="75.33" width="0.9" height="0.9" fill="#8a7ae8" opacity="0.79"/>
<rect x="192.28" y="75.94" width="0.9" height="0.9" fill="#8a7ae8" opacity="0.70"/>
<rect x="193.87" y="75.65" width="0.9" height="0.9" fill="#2a3fb8" opacity="0.53"/>
<rect x="199.01" y="76.54" width="0.9" height="0.9" fill="#7a6ae0" opacity="0.39"/>
<rect x="192.09" y="76.70" width="0.9" height="0.9" fill="#5a4fd0" opacity="0.37"/>
<rect x="201.40" y="81.60" width="0.9" height="0.9" fill="#7a6ae0" opacity="0.70"/>
<rect x="194.83" y="74.90" width="0.9" height="0.9" fill="#8a7ae8" opacity="0.75"/>
<rect x="192.48" y="69.26" width="0.9" height="0.9" fill="#5a4fd0" opacity="0.74"/>
<rect x="201.68" y="74.84" width="0.9" height="0.9" fill="#5a4fd0" opacity="0.44"/>
<rect x="200.05" y="74.47" width="0.9" height="0.9" fill="#3b4fc8" opacity="0.66"/>
<rect x="195.55" y="72.22" width="0.9" height="0.9" fill="#7a6ae0" opacity="0.62"/>
<rect x="195.96" y="78.54" width="0.9" height="0.9" fill="#8a7ae8" opacity="0.47"/>
<rect x="196.78" y="72.96" width="0.9" height="0.9" fill="#8a7ae8" opacity="0.78"/>
<rect x="191.35" y="75.67" width="0.9" height="0.9" fill="#8a7ae8" opacity="0.58"/>
<rect x="195.60" y="75.99" width="0.9" height="0.9" fill="#3b4fc8" opacity="0.53"/>
<rect x="194.15" y="72.56" width="0.9" height="0.9" fill="#7a6ae0" opacity="0.75"/>
<rect x="199.00" y="81.12" width="0.9" height="0.9" fill="#5a4fd0" opacity="0.70"/>
<rect x="202.60" y="77.38" width="0.9" height="0.9" fill="#2a3fb8" opacity="0.60"/>
<rect x="189.65" y="71.01" width="0.9" height="0.9" fill="#5a4fd0" opacity="0.46"/>
<rect x="189.27" y="73.25" width="0.9" height="0.9" fill="#7a6ae0" opacity="0.47"/>
<rect x="200.59" y="74.69" width="0.9" height="0.9" fill="#7a6ae0" opacity="0.50"/>
<rect x="198.21" y="76.42" width="0.9" height="0.9" fill="#8a7ae8" opacity="0.68"/>
<rect x="202.18" y="77.21" width="0.9" height="0.9" fill="#7a6ae0" opacity="0.49"/>
<rect x="202.91" y="73.28" width="0.9" height="0.9" fill="#7a6ae0" opacity="0.68"/>
<rect x="195.96" y="72.17" width="0.9" height="0.9" fill="#7a6ae0" opacity="0.63"/>
<rect x="192.18" y="76.98" width="0.9" height="0.9" fill="#5a4fd0" opacity="0.41"/>
<rect x="196.73" y="80.76" width="0.9" height="0.9" fill="#5a4fd0" opacity="0.37"/>
<rect x="193.28" y="73.61" width="0.9" height="0.9" fill="#8a7ae8" opacity="0.51"/>
<rect x="196.75" y="80.23" width="0.9" height="0.9" fill="#8a7ae8" opacity="0.41"/>
<rect x="191.62" y="80.60" width="0.9" height="0.9" fill="#3b4fc8" opacity="0.41"/>
<rect x="198.41" y="73.84" width="0.9" height="0.9" fill="#3b4fc8" opacity="0.55"/>
<rect x="193.80" y="91.42" width="0.9" height="0.9" fill="#7a6ae0" opacity="0.53"/>
<rect x="191.95" y="90.98" width="0.9" height="0.9" fill="#8a7ae8" opacity="0.75"/>
<rect x="188.19" y="85.21" width="0.9" height="0.9" fill="#8a7ae8" opacity="0.77"/>
<rect x="191.73" y="85.11" width="0.9" height="0.9" fill="#5a4fd0" opacity="0.37"/>
<rect x="188.50" y="88.69" width="0.9" height="0.9" fill="#3b4fc8" opacity="0.42"/>
<rect x="193.40" y="88.39" width="0.9" height="0.9" fill="#8a7ae8" opacity="0.60"/>
<rect x="193.81" y="88.69" width="0.9" height="0.9" fill="#3b4fc8" opacity="0.58"/>
<rect x="188.84" y="82.67" width="0.9" height="0.9" fill="#2a3fb8" opacity="0.72"/>
<rect x="193.37" y="94.98" width="0.9" height="0.9" fill="#7a6ae0" opacity="0.63"/>
<rect x="197.61" y="89.61" width="0.9" height="0.9" fill="#2a3fb8" opacity="0.67"/>
<rect x="198.75" y="90.50" width="0.9" height="0.9" fill="#2a3fb8" opacity="0.39"/>
<rect x="190.78" y="86.65" width="0.9" height="0.9" fill="#5a4fd0" opacity="0.47"/>
<rect x="190.89" y="87.38" width="0.9" height="0.9" fill="#7a6ae0" opacity="0.67"/>
<rect x="191.55" y="98.22" width="0.9" height="0.9" fill="#2a3fb8" opacity="0.66"/>
<rect x="200.12" y="81.37" width="0.9" height="0.9" fill="#7a6ae0" opacity="0.64"/>
<rect x="194.39" y="89.01" width="0.9" height="0.9" fill="#8a7ae8" opacity="0.36"/>
<rect x="191.83" y="94.76" width="0.9" height="0.9" fill="#3b4fc8" opacity="0.78"/>
<rect x="191.92" y="84.22" width="0.9" height="0.9" fill="#2a3fb8" opacity="0.50"/>
<rect x="188.34" y="82.69" width="0.9" height="0.9" fill="#8a7ae8" opacity="0.56"/>
<rect x="194.89" y="81.50" width="0.9" height="0.9" fill="#5a4fd0" opacity="0.55"/>
<rect x="191.28" y="81.66" width="0.9" height="0.9" fill="#7a6ae0" opacity="0.71"/>
<rect x="188.39" y="95.43" width="0.9" height="0.9" fill="#8a7ae8" opacity="0.76"/>
<rect x="192.50" y="91.20" width="0.9" height="0.9" fill="#5a4fd0" opacity="0.63"/>
<rect x="191.73" y="88.45" width="0.9" height="0.9" fill="#3b4fc8" opacity="0.66"/>
<rect x="188.39" y="82.51" width="0.9" height="0.9" fill="#5a4fd0" opacity="0.38"/>
<rect x="189.20" y="86.67" width="0.9" height="0.9" fill="#8a7ae8" opacity="0.75"/>
<rect x="198.44" y="95.26" width="0.9" height="0.9" fill="#2a3fb8" opacity="0.40"/>
<rect x="192.47" y="93.05" width="0.9" height="0.9" fill="#5a4fd0" opacity="0.78"/>
<rect x="196.97" y="84.23" width="0.9" height="0.9" fill="#5a4fd0" opacity="0.72"/>
<rect x="190.05" y="86.06" width="0.9" height="0.9" fill="#5a4fd0" opacity="0.41"/>
<rect x="193.32" y="80.95" width="0.9" height="0.9" fill="#7a6ae0" opacity="0.49"/>
<rect x="191.36" y="90.62" width="0.9" height="0.9" fill="#7a6ae0" opacity="0.77"/>
<rect x="197.64" y="93.29" width="0.9" height="0.9" fill="#7a6ae0" opacity="0.70"/>
<rect x="188.81" y="85.58" width="0.9" height="0.9" fill="#7a6ae0" opacity="0.63"/>
<rect x="195.54" y="91.30" width="0.9" height="0.9" fill="#2a3fb8" opacity="0.58"/>
<rect x="195.21" y="94.23" width="0.9" height="0.9" fill="#5a4fd0" opacity="0.59"/>
<rect x="193.45" y="102.66" width="0.9" height="0.9" fill="#5a4fd0" opacity="0.61"/>
<rect x="191.13" y="96.77" width="0.9" height="0.9" fill="#8a7ae8" opacity="0.44"/>
<rect x="192.74" y="72.11" width="0.9" height="0.9" fill="#5a4fd0" opacity="0.51"/>
<rect x="196.45" y="95.67" width="0.9" height="0.9" fill="#3b4fc8" opacity="0.79"/>
<rect x="184.66" y="81.04" width="0.9" height="0.9" fill="#8a7ae8" opacity="0.47"/>
<rect x="194.68" y="88.17" width="0.9" height="0.9" fill="#3b4fc8" opacity="0.77"/>
<rect x="192.24" y="93.89" width="0.9" height="0.9" fill="#5a4fd0" opacity="0.57"/>
<rect x="196.49" y="89.53" width="0.9" height="0.9" fill="#5a4fd0" opacity="0.63"/>
<rect x="189.82" y="95.19" width="0.9" height="0.9" fill="#2a3fb8" opacity="0.75"/>
<rect x="191.89" y="83.20" width="0.9" height="0.9" fill="#5a4fd0" opacity="0.52"/>
<rect x="190.79" y="96.49" width="0.9" height="0.9" fill="#8a7ae8" opacity="0.58"/>
<rect x="186.73" y="99.28" width="0.9" height="0.9" fill="#3b4fc8" opacity="0.77"/>
<rect x="195.28" y="96.24" width="0.9" height="0.9" fill="#8a7ae8" opacity="0.64"/>
<rect x="190.19" y="94.71" width="0.9" height="0.9" fill="#3b4fc8" opacity="0.74"/>
<rect x="187.77" y="92.54" width="0.9" height="0.9" fill="#7a6ae0" opacity="0.43"/>
<rect x="186.41" y="94.20" width="0.9" height="0.9" fill="#8a7ae8" opacity="0.45"/>
<rect x="189.47" y="98.05" width="0.9" height="0.9" fill="#3b4fc8" opacity="0.58"/>
<rect x="191.36" y="100.83" width="0.9" height="0.9" fill="#8a7ae8" opacity="0.42"/>
<rect x="193.47" y="94.07" width="0.9" height="0.9" fill="#7a6ae0" opacity="0.62"/>
<rect x="190.51" y="93.88" width="0.9" height="0.9" fill="#3b4fc8" opacity="0.47"/>
<rect x="202.93" y="84.10" width="0.9" height="0.9" fill="#3b4fc8" opacity="0.78"/>
<rect x="194.77" y="93.82" width="0.9" height="0.9" fill="#3b4fc8" opacity="0.71"/>
<ellipse cx="68" cy="75.5" rx="5.5" ry="4" fill="#7060d8" opacity="0.55" filter="url(#blur1)" transform="rotate(-35 68 75.5)"/>
<ellipse cx="66" cy="77" rx="4" ry="3" fill="#2846c8" opacity="0.6" filter="url(#blur1)"/>
<ellipse cx="60.5" cy="84" rx="5.5" ry="7" fill="#2846c8" opacity="0.85" filter="url(#blur1)"/>
<ellipse cx="61" cy="93" rx="2.8" ry="6" fill="#2846c8" opacity="0.55" filter="url(#blur1)"/>
<ellipse cx="60.2" cy="83" rx="4" ry="4.3" fill="#30b8b0" opacity="0.95" filter="url(#blur2)"/>
<ellipse cx="60.2" cy="82" rx="3" ry="3" fill="#58c050" opacity="1.0" filter="url(#blur2)"/>
<ellipse cx="60.2" cy="81.6" rx="2.2" ry="2.2" fill="#e8d820" opacity="1.0" filter="url(#blur2)"/>
<ellipse cx="60.2" cy="81.3" rx="1.1" ry="1.1" fill="#e07818" opacity="0.9" filter="url(#blur2)"/>
<rect x="33.50" y="57.5" width="47.00" height="46.0" fill="none" stroke="#4a4a4a" stroke-width="0.9"/>
<path d="M33.50,79.5 L78.50,79.5 L78.50,103.5" stroke="#606060" stroke-width="0.9" fill="none"/>
<rect x="57.50" y="68.5" width="10.00" height="11" fill="none" stroke="#606060" stroke-width="0.9"/>
<path d="M58.50,79.5 L58.50,103.5 M63.50,79.5 L63.50,103.5" stroke="#606060" stroke-width="0.9" fill="none"/>
<line x1="31.70" y1="61.30" x2="33.50" y2="61.30" stroke="#333" stroke-width="0.8"/>
<text x="28.90" y="63.50" font-size="6.3" text-anchor="end" fill="#333" textLength="6.40" lengthAdjust="spacingAndGlyphs">10</text>
<text x="29.10" y="60.70" font-size="3.6" fill="#333">5</text>
<line x1="31.70" y1="70.50" x2="33.50" y2="70.50" stroke="#333" stroke-width="0.8"/>
<text x="28.90" y="72.70" font-size="6.3" text-anchor="end" fill="#333" textLength="6.40" lengthAdjust="spacingAndGlyphs">10</text>
<text x="29.10" y="69.90" font-size="3.6" fill="#333">4</text>
<line x1="31.70" y1="79.50" x2="33.50" y2="79.50" stroke="#333" stroke-width="0.8"/>
<text x="28.90" y="81.70" font-size="6.3" text-anchor="end" fill="#333" textLength="6.40" lengthAdjust="spacingAndGlyphs">10</text>
<text x="29.10" y="78.90" font-size="3.6" fill="#333">3</text>
<line x1="31.70" y1="88.90" x2="33.50" y2="88.90" stroke="#333" stroke-width="0.8"/>
<text x="28.90" y="91.10" font-size="6.3" text-anchor="end" fill="#333" textLength="6.40" lengthAdjust="spacingAndGlyphs">10</text>
<text x="29.10" y="88.30" font-size="3.6" fill="#333">2</text>
<line x1="31.70" y1="98.20" x2="33.50" y2="98.20" stroke="#333" stroke-width="0.8"/>
<text x="28.90" y="100.40" font-size="6.3" text-anchor="end" fill="#333" textLength="6.40" lengthAdjust="spacingAndGlyphs">10</text>
<text x="29.10" y="97.60" font-size="3.6" fill="#333">1</text>
<line x1="38.80" y1="103.50" x2="38.80" y2="105.10" stroke="#333" stroke-width="0.8"/>
<line x1="49.80" y1="103.50" x2="49.80" y2="105.10" stroke="#333" stroke-width="0.8"/>
<line x1="61.80" y1="103.50" x2="61.80" y2="105.10" stroke="#333" stroke-width="0.8"/>
<line x1="75.70" y1="103.50" x2="75.70" y2="105.10" stroke="#333" stroke-width="0.8"/>
<rect x="48.00" y="102.60" width="3.50" height="1.60" fill="#222"/>
<text x="37.30" y="112.90" font-size="6.6" text-anchor="middle" fill="#333" textLength="10.80" lengthAdjust="spacingAndGlyphs">−10</text>
<text x="42.90" y="109.00" font-size="3.8" fill="#333">4</text>
<text x="49.80" y="112.70" font-size="6.3" text-anchor="middle" fill="#333" textLength="3.50" lengthAdjust="spacingAndGlyphs">0</text>
<text x="60.90" y="112.70" font-size="6.3" text-anchor="middle" fill="#333" textLength="6.40" lengthAdjust="spacingAndGlyphs">10</text>
<text x="64.30" y="108.90" font-size="3.6" fill="#333">4</text>
<text x="74.70" y="112.70" font-size="6.3" text-anchor="middle" fill="#333" textLength="6.40" lengthAdjust="spacingAndGlyphs">10</text>
<text x="78.10" y="108.90" font-size="3.6" fill="#333">5</text>
<text x="62.50" y="66.90" font-size="4.6" text-anchor="middle" fill="#4a8cc8" textLength="6.00" lengthAdjust="spacingAndGlyphs">6.5</text>
<text x="38.10" y="101.50" font-size="4.8" text-anchor="middle" fill="#e8b880" textLength="6.30" lengthAdjust="spacingAndGlyphs">5.8</text>
<text x="72.30" y="101.50" font-size="4.8" text-anchor="middle" fill="#6ab0b8" textLength="8.40" lengthAdjust="spacingAndGlyphs">12.4</text>
<ellipse cx="133" cy="74" rx="6" ry="7" fill="#7060d8" opacity="0.5" filter="url(#blur1)"/>
<ellipse cx="127" cy="84" rx="8.5" ry="9.5" fill="#2846c8" opacity="0.85" filter="url(#blur1)"/>
<ellipse cx="132" cy="76" rx="5" ry="5" fill="#2846c8" opacity="0.7" filter="url(#blur1)"/>
<ellipse cx="126" cy="94" rx="3.5" ry="6" fill="#2846c8" opacity="0.6" filter="url(#blur1)"/>
<ellipse cx="125.5" cy="82.5" rx="5.5" ry="5.5" fill="#30b8b0" opacity="0.9" filter="url(#blur2)"/>
<ellipse cx="125.5" cy="78.5" rx="6" ry="2.2" fill="#58c050" opacity="0.9" filter="url(#blur2)"/>
<ellipse cx="125.5" cy="81.5" rx="4" ry="3.6" fill="#58c050" opacity="1.0" filter="url(#blur2)"/>
<ellipse cx="125.5" cy="80.8" rx="2.8" ry="2.4" fill="#e8d820" opacity="1.0" filter="url(#blur2)"/>
<ellipse cx="125.5" cy="79.8" rx="2.2" ry="1.2" fill="#e07818" opacity="1.0" filter="url(#blur2)"/>
<ellipse cx="125.6" cy="79.6" rx="1.0" ry="0.7" fill="#d02010" opacity="0.9" filter="url(#blur2)"/>
<rect x="97.50" y="57.5" width="47.00" height="46.0" fill="none" stroke="#4a4a4a" stroke-width="0.9"/>
<path d="M97.50,79.5 L141.50,79.5 L141.50,103.5" stroke="#606060" stroke-width="0.9" fill="none"/>
<rect x="120.50" y="68.5" width="11.00" height="11" fill="none" stroke="#606060" stroke-width="0.9"/>
<path d="M122.50,79.5 L122.50,103.5 M127.50,79.5 L127.50,103.5" stroke="#606060" stroke-width="0.9" fill="none"/>
<line x1="95.70" y1="61.30" x2="97.50" y2="61.30" stroke="#333" stroke-width="0.8"/>
<text x="92.90" y="63.50" font-size="6.3" text-anchor="end" fill="#333" textLength="6.40" lengthAdjust="spacingAndGlyphs">10</text>
<text x="93.10" y="60.70" font-size="3.6" fill="#333">5</text>
<line x1="95.70" y1="70.50" x2="97.50" y2="70.50" stroke="#333" stroke-width="0.8"/>
<text x="92.90" y="72.70" font-size="6.3" text-anchor="end" fill="#333" textLength="6.40" lengthAdjust="spacingAndGlyphs">10</text>
<text x="93.10" y="69.90" font-size="3.6" fill="#333">4</text>
<line x1="95.70" y1="79.50" x2="97.50" y2="79.50" stroke="#333" stroke-width="0.8"/>
<text x="92.90" y="81.70" font-size="6.3" text-anchor="end" fill="#333" textLength="6.40" lengthAdjust="spacingAndGlyphs">10</text>
<text x="93.10" y="78.90" font-size="3.6" fill="#333">3</text>
<line x1="95.70" y1="88.90" x2="97.50" y2="88.90" stroke="#333" stroke-width="0.8"/>
<text x="92.90" y="91.10" font-size="6.3" text-anchor="end" fill="#333" textLength="6.40" lengthAdjust="spacingAndGlyphs">10</text>
<text x="93.10" y="88.30" font-size="3.6" fill="#333">2</text>
<line x1="95.70" y1="98.20" x2="97.50" y2="98.20" stroke="#333" stroke-width="0.8"/>
<text x="92.90" y="100.40" font-size="6.3" text-anchor="end" fill="#333" textLength="6.40" lengthAdjust="spacingAndGlyphs">10</text>
<text x="93.10" y="97.60" font-size="3.6" fill="#333">1</text>
<line x1="102.80" y1="103.50" x2="102.80" y2="105.10" stroke="#333" stroke-width="0.8"/>
<line x1="113.80" y1="103.50" x2="113.80" y2="105.10" stroke="#333" stroke-width="0.8"/>
<line x1="125.80" y1="103.50" x2="125.80" y2="105.10" stroke="#333" stroke-width="0.8"/>
<line x1="139.70" y1="103.50" x2="139.70" y2="105.10" stroke="#333" stroke-width="0.8"/>
<rect x="112.00" y="102.60" width="3.50" height="1.60" fill="#222"/>
<text x="101.30" y="112.90" font-size="6.6" text-anchor="middle" fill="#333" textLength="10.80" lengthAdjust="spacingAndGlyphs">−10</text>
<text x="106.90" y="109.00" font-size="3.8" fill="#333">4</text>
<text x="113.80" y="112.70" font-size="6.3" text-anchor="middle" fill="#333" textLength="3.50" lengthAdjust="spacingAndGlyphs">0</text>
<text x="124.90" y="112.70" font-size="6.3" text-anchor="middle" fill="#333" textLength="6.40" lengthAdjust="spacingAndGlyphs">10</text>
<text x="128.30" y="108.90" font-size="3.6" fill="#333">4</text>
<text x="138.70" y="112.70" font-size="6.3" text-anchor="middle" fill="#333" textLength="6.40" lengthAdjust="spacingAndGlyphs">10</text>
<text x="142.10" y="108.90" font-size="3.6" fill="#333">5</text>
<text x="126.00" y="66.90" font-size="4.6" text-anchor="middle" fill="#4a8cc8" textLength="8.00" lengthAdjust="spacingAndGlyphs">32.4</text>
<text x="102.10" y="101.50" font-size="4.8" text-anchor="middle" fill="#e8b880" textLength="6.30" lengthAdjust="spacingAndGlyphs">4.1</text>
<text x="136.30" y="101.50" font-size="4.8" text-anchor="middle" fill="#6ab0b8" textLength="8.40" lengthAdjust="spacingAndGlyphs">16.5</text>
<ellipse cx="196" cy="75" rx="5" ry="5" fill="#7060d8" opacity="0.5" filter="url(#blur1)"/>
<ellipse cx="191.5" cy="82" rx="7" ry="8" fill="#2846c8" opacity="0.85" filter="url(#blur1)"/>
<ellipse cx="192" cy="92" rx="4" ry="8" fill="#2846c8" opacity="0.7" filter="url(#blur1)"/>
<ellipse cx="190.5" cy="81.5" rx="4.8" ry="5" fill="#30b8b0" opacity="0.95" filter="url(#blur2)"/>
<ellipse cx="190.5" cy="80.6" rx="3.2" ry="3.5" fill="#58c050" opacity="1.0" filter="url(#blur2)"/>
<ellipse cx="190.6" cy="79.8" rx="2.0" ry="2.1" fill="#e8d820" opacity="1.0" filter="url(#blur2)"/>
<ellipse cx="190.6" cy="79.3" rx="1.3" ry="1.0" fill="#e07818" opacity="1.0" filter="url(#blur2)"/>
<rect x="161.50" y="57.5" width="46.00" height="46.0" fill="none" stroke="#4a4a4a" stroke-width="0.9"/>
<path d="M161.50,79.5 L205.50,79.5 L205.50,103.5" stroke="#606060" stroke-width="0.9" fill="none"/>
<rect x="184.50" y="68.5" width="10.00" height="11" fill="none" stroke="#606060" stroke-width="0.9"/>
<path d="M185.50,79.5 L185.50,103.5 M190.50,79.5 L190.50,103.5" stroke="#606060" stroke-width="0.9" fill="none"/>
<line x1="159.70" y1="61.30" x2="161.50" y2="61.30" stroke="#333" stroke-width="0.8"/>
<text x="156.90" y="63.50" font-size="6.3" text-anchor="end" fill="#333" textLength="6.40" lengthAdjust="spacingAndGlyphs">10</text>
<text x="157.10" y="60.70" font-size="3.6" fill="#333">5</text>
<line x1="159.70" y1="70.50" x2="161.50" y2="70.50" stroke="#333" stroke-width="0.8"/>
<text x="156.90" y="72.70" font-size="6.3" text-anchor="end" fill="#333" textLength="6.40" lengthAdjust="spacingAndGlyphs">10</text>
<text x="157.10" y="69.90" font-size="3.6" fill="#333">4</text>
<line x1="159.70" y1="79.50" x2="161.50" y2="79.50" stroke="#333" stroke-width="0.8"/>
<text x="156.90" y="81.70" font-size="6.3" text-anchor="end" fill="#333" textLength="6.40" lengthAdjust="spacingAndGlyphs">10</text>
<text x="157.10" y="78.90" font-size="3.6" fill="#333">3</text>
<line x1="159.70" y1="88.90" x2="161.50" y2="88.90" stroke="#333" stroke-width="0.8"/>
<text x="156.90" y="91.10" font-size="6.3" text-anchor="end" fill="#333" textLength="6.40" lengthAdjust="spacingAndGlyphs">10</text>
<text x="157.10" y="88.30" font-size="3.6" fill="#333">2</text>
<line x1="159.70" y1="98.20" x2="161.50" y2="98.20" stroke="#333" stroke-width="0.8"/>
<text x="156.90" y="100.40" font-size="6.3" text-anchor="end" fill="#333" textLength="6.40" lengthAdjust="spacingAndGlyphs">10</text>
<text x="157.10" y="97.60" font-size="3.6" fill="#333">1</text>
<line x1="166.80" y1="103.50" x2="166.80" y2="105.10" stroke="#333" stroke-width="0.8"/>
<line x1="177.80" y1="103.50" x2="177.80" y2="105.10" stroke="#333" stroke-width="0.8"/>
<line x1="189.80" y1="103.50" x2="189.80" y2="105.10" stroke="#333" stroke-width="0.8"/>
<line x1="203.70" y1="103.50" x2="203.70" y2="105.10" stroke="#333" stroke-width="0.8"/>
<rect x="176.00" y="102.60" width="3.50" height="1.60" fill="#222"/>
<text x="165.30" y="112.90" font-size="6.6" text-anchor="middle" fill="#333" textLength="10.80" lengthAdjust="spacingAndGlyphs">−10</text>
<text x="170.90" y="109.00" font-size="3.8" fill="#333">4</text>
<text x="177.80" y="112.70" font-size="6.3" text-anchor="middle" fill="#333" textLength="3.50" lengthAdjust="spacingAndGlyphs">0</text>
<text x="188.90" y="112.70" font-size="6.3" text-anchor="middle" fill="#333" textLength="6.40" lengthAdjust="spacingAndGlyphs">10</text>
<text x="192.30" y="108.90" font-size="3.6" fill="#333">4</text>
<text x="202.70" y="112.70" font-size="6.3" text-anchor="middle" fill="#333" textLength="6.40" lengthAdjust="spacingAndGlyphs">10</text>
<text x="206.10" y="108.90" font-size="3.6" fill="#333">5</text>
<text x="189.50" y="66.90" font-size="4.6" text-anchor="middle" fill="#4a8cc8" textLength="8.00" lengthAdjust="spacingAndGlyphs">35.2</text>
<text x="166.10" y="101.50" font-size="4.8" text-anchor="middle" fill="#e8b880" textLength="6.30" lengthAdjust="spacingAndGlyphs">1.4</text>
<text x="200.30" y="101.50" font-size="4.8" text-anchor="middle" fill="#6ab0b8" textLength="8.40" lengthAdjust="spacingAndGlyphs">27.6</text>
<text x="15.20" y="93.60" font-size="8.4" text-anchor="middle" fill="#333" textLength="16.40" lengthAdjust="spacingAndGlyphs" transform="rotate(-90 15.20 93.60)">CD54</text>
<path d="M12.4,122.6 L12.4,108.0" stroke="#222" stroke-width="0.9" fill="none"/>
<path d="M10.5,109.0 L12.4,105.5 L14.3,109.0 Z" stroke="#222" stroke-width="0.5" fill="#222"/>
<path d="M12.4,122.6 L25.0,122.6" stroke="#222" stroke-width="0.9" fill="none"/>
<path d="M23.8,120.7 L27.3,122.6 L23.8,124.5 Z" stroke="#222" stroke-width="0.5" fill="#222"/>
<text x="40.10" y="125.80" font-size="9.0" text-anchor="middle" fill="#333" textLength="18.60" lengthAdjust="spacingAndGlyphs">CD49f</text>
<text x="221.30" y="15.90" font-size="11.0" fill="#111" font-weight="bold" textLength="8.10" lengthAdjust="spacingAndGlyphs" stroke="#111" stroke-width="0.3">B</text>
<path d="M245.00,16.00 C243.40,12.60 240.20,11.60 237.60,13.00 C235.40,14.40 234.00,16.40 231.40,16.60" stroke="#343848" stroke-width="1.1" fill="none"/>
<path d="M238.80,18.90 C239.40,14.80 250.60,14.80 251.20,18.90 C251.80,21.90 252.70,24.40 252.40,26.90 C252.10,28.90 250.60,29.90 249.60,30.40 L248.60,31.30 C247.00,31.60 243.00,31.60 241.40,31.30 L240.40,30.40 C239.40,29.90 237.90,28.90 237.60,26.90 C237.30,24.40 238.20,21.90 238.80,18.90 Z" stroke="#2c4a94" stroke-width="0.7" fill="#4a6fc6"/>
<path d="M238.00,22.90 C239.40,21.80 241.40,22.40 242.60,23.80" stroke="#2c4a94" stroke-width="1.5" fill="none"/>
<path d="M252.00,22.90 C250.60,21.80 248.60,22.40 247.40,23.80" stroke="#2c4a94" stroke-width="1.5" fill="none"/>
<path d="M237.80,24.90 C238.20,27.90 239.50,29.00 240.60,30.20" stroke="#2c4a94" stroke-width="0.9" fill="none"/>
<path d="M252.20,24.90 C251.80,27.90 250.50,29.00 249.40,30.20" stroke="#2c4a94" stroke-width="0.9" fill="none"/>
<path d="M241.20,29.00 C243.00,27.40 244.00,27.00 245.00,27.80" stroke="#2c4a94" stroke-width="0.9" fill="none"/>
<path d="M248.80,29.00 C247.00,27.40 246.00,27.00 245.00,27.80" stroke="#2c4a94" stroke-width="0.9" fill="none"/>
<ellipse cx="240.70" cy="30.70" rx="1.3" ry="0.8" fill="#1a1a1a" opacity="0.75"/>
<ellipse cx="249.30" cy="30.70" rx="1.3" ry="0.8" fill="#1a1a1a" opacity="0.75"/>
<path d="M272.40,15.90 C270.80,12.50 267.60,11.50 265.00,12.90 C262.80,14.30 261.40,16.30 258.80,16.50" stroke="#5a2a2a" stroke-width="1.1" fill="none"/>
<clipPath id="clipm272L"><rect x="262.4" y="13.3" width="10" height="20"/></clipPath>
<clipPath id="clipm272R"><rect x="272.4" y="13.3" width="10" height="20"/></clipPath>
<path d="M266.20,18.80 C266.80,14.70 278.00,14.70 278.60,18.80 C279.20,21.80 280.10,24.30 279.80,26.80 C279.50,28.80 278.00,29.80 277.00,30.30 L276.00,31.20 C274.40,31.50 270.40,31.50 268.80,31.20 L267.80,30.30 C266.80,29.80 265.30,28.80 265.00,26.80 C264.70,24.30 265.60,21.80 266.20,18.80 Z" stroke="#145a14" stroke-width="0.7" fill="#3aaa3a" clip-path="url(#clipm272L)"/>
<path d="M266.20,18.80 C266.80,14.70 278.00,14.70 278.60,18.80 C279.20,21.80 280.10,24.30 279.80,26.80 C279.50,28.80 278.00,29.80 277.00,30.30 L276.00,31.20 C274.40,31.50 270.40,31.50 268.80,31.20 L267.80,30.30 C266.80,29.80 265.30,28.80 265.00,26.80 C264.70,24.30 265.60,21.80 266.20,18.80 Z" stroke="#7a0c0c" stroke-width="0.7" fill="#e42222" clip-path="url(#clipm272R)"/>
<path d="M265.40,22.80 C266.80,21.70 268.80,22.30 270.00,23.70" stroke="#145a14" stroke-width="1.5" fill="none"/>
<path d="M279.40,22.80 C278.00,21.70 276.00,22.30 274.80,23.70" stroke="#7a0c0c" stroke-width="1.5" fill="none"/>
<path d="M265.20,24.80 C265.60,27.80 266.90,28.90 268.00,30.10" stroke="#145a14" stroke-width="0.9" fill="none"/>
<path d="M279.60,24.80 C279.20,27.80 277.90,28.90 276.80,30.10" stroke="#7a0c0c" stroke-width="0.9" fill="none"/>
<path d="M268.60,28.90 C270.40,27.30 271.40,26.90 272.40,27.70" stroke="#145a14" stroke-width="0.9" fill="none"/>
<path d="M276.20,28.90 C274.40,27.30 273.40,26.90 272.40,27.70" stroke="#7a0c0c" stroke-width="0.9" fill="none"/>
<ellipse cx="268.10" cy="30.60" rx="1.3" ry="0.8" fill="#1a1a1a" opacity="0.75"/>
<ellipse cx="276.70" cy="30.60" rx="1.3" ry="0.8" fill="#1a1a1a" opacity="0.75"/>
<path d="M298.00,16.00 C296.40,12.60 293.20,11.60 290.60,13.00 C288.40,14.40 287.00,16.40 284.40,16.60" stroke="#3a3a30" stroke-width="1.1" fill="none"/>
<path d="M291.80,18.90 C292.40,14.80 303.60,14.80 304.20,18.90 C304.80,21.90 305.70,24.40 305.40,26.90 C305.10,28.90 303.60,29.90 302.60,30.40 L301.60,31.30 C300.00,31.60 296.00,31.60 294.40,31.30 L293.40,30.40 C292.40,29.90 290.90,28.90 290.60,26.90 C290.30,24.40 291.20,21.90 291.80,18.90 Z" stroke="#1c6c1c" stroke-width="0.7" fill="#3aaa3a"/>
<path d="M291.00,22.90 C292.40,21.80 294.40,22.40 295.60,23.80" stroke="#1c6c1c" stroke-width="1.5" fill="none"/>
<path d="M305.00,22.90 C303.60,21.80 301.60,22.40 300.40,23.80" stroke="#1c6c1c" stroke-width="1.5" fill="none"/>
<path d="M290.80,24.90 C291.20,27.90 292.50,29.00 293.60,30.20" stroke="#1c6c1c" stroke-width="0.9" fill="none"/>
<path d="M305.20,24.90 C304.80,27.90 303.50,29.00 302.40,30.20" stroke="#1c6c1c" stroke-width="0.9" fill="none"/>
<path d="M294.20,29.00 C296.00,27.40 297.00,27.00 298.00,27.80" stroke="#1c6c1c" stroke-width="0.9" fill="none"/>
<path d="M301.80,29.00 C300.00,27.40 299.00,27.00 298.00,27.80" stroke="#1c6c1c" stroke-width="0.9" fill="none"/>
<ellipse cx="293.70" cy="30.70" rx="1.3" ry="0.8" fill="#1a1a1a" opacity="0.75"/>
<ellipse cx="302.30" cy="30.70" rx="1.3" ry="0.8" fill="#1a1a1a" opacity="0.75"/>
<path d="M324.30,16.00 C322.70,12.60 319.50,11.60 316.90,13.00 C314.70,14.40 313.30,16.40 310.70,16.60" stroke="#6a2a2a" stroke-width="1.1" fill="none"/>
<path d="M318.10,18.90 C318.70,14.80 329.90,14.80 330.50,18.90 C331.10,21.90 332.00,24.40 331.70,26.90 C331.40,28.90 329.90,29.90 328.90,30.40 L327.90,31.30 C326.30,31.60 322.30,31.60 320.70,31.30 L319.70,30.40 C318.70,29.90 317.20,28.90 316.90,26.90 C316.60,24.40 317.50,21.90 318.10,18.90 Z" stroke="#8a1010" stroke-width="0.7" fill="#e42222"/>
<path d="M317.30,22.90 C318.70,21.80 320.70,22.40 321.90,23.80" stroke="#8a1010" stroke-width="1.5" fill="none"/>
<path d="M331.30,22.90 C329.90,21.80 327.90,22.40 326.70,23.80" stroke="#8a1010" stroke-width="1.5" fill="none"/>
<path d="M317.10,24.90 C317.50,27.90 318.80,29.00 319.90,30.20" stroke="#8a1010" stroke-width="0.9" fill="none"/>
<path d="M331.50,24.90 C331.10,27.90 329.80,29.00 328.70,30.20" stroke="#8a1010" stroke-width="0.9" fill="none"/>
<path d="M320.50,29.00 C322.30,27.40 323.30,27.00 324.30,27.80" stroke="#8a1010" stroke-width="0.9" fill="none"/>
<path d="M328.10,29.00 C326.30,27.40 325.30,27.00 324.30,27.80" stroke="#8a1010" stroke-width="0.9" fill="none"/>
<ellipse cx="320.00" cy="30.70" rx="1.3" ry="0.8" fill="#1a1a1a" opacity="0.75"/>
<ellipse cx="328.60" cy="30.70" rx="1.3" ry="0.8" fill="#1a1a1a" opacity="0.75"/>
<line x1="245.80" y1="34.50" x2="245.80" y2="39.70" stroke="#444" stroke-width="0.9"/>
<path d="M245.80,42.20 L244.10,39.40 L247.50,39.40 Z" stroke="#222" stroke-width="0.3" fill="#222"/>
<line x1="273.90" y1="35.00" x2="273.90" y2="50.30" stroke="#777" stroke-width="0.9"/>
<path d="M273.90,52.80 L272.20,50.00 L275.60,50.00 Z" stroke="#222" stroke-width="0.3" fill="#222"/>
<line x1="298.20" y1="35.00" x2="298.20" y2="50.30" stroke="#555" stroke-width="0.9"/>
<path d="M298.20,52.80 L296.50,50.00 L299.90,50.00 Z" stroke="#222" stroke-width="0.3" fill="#222"/>
<line x1="323.60" y1="35.00" x2="323.60" y2="50.30" stroke="#555" stroke-width="0.9"/>
<path d="M323.60,52.80 L321.90,50.00 L325.30,50.00 Z" stroke="#222" stroke-width="0.3" fill="#222"/>
<path d="M262.2,38.2 C262.4,36.8 264.6,36.4 266.2,36.9 C267.6,37.3 267.8,38.6 266.6,39.2 C266.0,39.5 265.4,39.6 265.2,39.8 L268.6,52.2 C269.6,52.4 270.8,53.0 270.8,54.0 C270.6,55.0 268.6,55.2 267.0,55.0 C265.6,54.8 264.8,54.4 265.2,53.6 C265.4,53.0 266.0,52.8 266.6,52.6 L263.4,40.0 C262.6,39.6 262.0,39.0 262.2,38.2 Z" stroke="#2a2a20" stroke-width="0.75" fill="#f2edc4"/>
<line x1="264.20" y1="40.20" x2="267.40" y2="52.40" stroke="#6a6a50" stroke-width="0.4"/>
<text x="247.60" y="57.60" font-size="7.2" text-anchor="middle" fill="#444" textLength="20.70" lengthAdjust="spacingAndGlyphs">Sorting</text>
<text x="247.40" y="65.20" font-size="7.2" text-anchor="middle" fill="#444" textLength="52.30" lengthAdjust="spacingAndGlyphs">(CD49f and CD54)</text>
<path d="M235.45,81.10 Q233.90,74.60 237.20,71.30 Q240.50,68.00 247.00,68.10 Q253.50,68.20 256.40,71.80 Q259.30,75.40 258.65,80.25 Q258.00,85.10 253.25,87.05 Q248.50,89.00 242.75,88.30 Q237.00,87.60 235.45,81.10 Z" stroke="#6a2a42" stroke-width="1.2" fill="#f4d0da"/>
<ellipse cx="246.5" cy="75.8" rx="6.3" ry="3.8000000000000003" fill="#f9e6eb" filter="url(#blur2)"/>
<path d="M239.2,77.6 C241.5,76.8 243.5,79.6 246.4,80.2 C249.5,79.6 251.6,76.8 254.0,77.0 C255.0,80.8 251.8,85.8 246.4,86.0 C241.6,86.0 238.4,81.6 239.2,77.6 Z" stroke="#7a2446" stroke-width="0.6" fill="#a53f64"/>
<path d="M262.45,82.00 Q260.90,76.80 262.90,72.50 Q264.90,68.20 272.20,67.80 Q279.50,67.40 282.90,70.80 Q286.30,74.20 285.90,80.10 Q285.50,86.00 280.00,87.70 Q274.50,89.40 269.25,88.30 Q264.00,87.20 262.45,82.00 Z" stroke="#6a2a42" stroke-width="1.2" fill="#f4d0da"/>
<ellipse cx="273.5" cy="76.0" rx="6.2" ry="3.9200000000000004" fill="#f9e6eb" filter="url(#blur2)"/>
<path d="M265.8,75.0 C267.6,74.2 268.2,79.4 271.0,81.0 C273.8,82.4 277.0,81.6 279.4,81.8 C279.0,85.6 274.6,87.0 271.0,86.2 C266.6,85.4 264.0,79.0 265.8,75.0 Z" stroke="#7a2446" stroke-width="0.6" fill="#a53f64"/>
<path d="M288.60,81.35 Q287.90,75.10 290.60,71.25 Q293.30,67.40 299.05,68.00 Q304.80,68.60 307.85,72.70 Q310.90,76.80 309.70,82.80 Q308.50,88.80 303.90,90.30 Q299.30,91.80 294.30,89.70 Q289.30,87.60 288.60,81.35 Z" stroke="#6a2a42" stroke-width="1.2" fill="#f4d0da"/>
<ellipse cx="299.3" cy="76.8" rx="5.5" ry="4.68" fill="#f9e6eb" filter="url(#blur2)"/>
<path d="M291.8,80.2 C294.6,79.0 297.6,80.6 300.0,81.4 C302.8,80.0 304.6,77.2 306.6,77.2 C307.4,82.2 304.6,87.4 300.0,87.6 C295.6,87.6 292.2,84.4 291.8,80.2 Z" stroke="#7a2446" stroke-width="0.6" fill="#a53f64"/>
<path d="M313.10,81.00 Q312.10,76.00 314.60,72.00 Q317.10,68.00 324.05,67.80 Q331.00,67.60 334.05,71.10 Q337.10,74.60 336.40,79.70 Q335.70,84.80 330.60,86.70 Q325.50,88.60 319.80,87.30 Q314.10,86.00 313.10,81.00 Z" stroke="#6a2a42" stroke-width="1.2" fill="#f4d0da"/>
<ellipse cx="324.5" cy="75.60000000000001" rx="6.15" ry="3.88" fill="#f9e6eb" filter="url(#blur2)"/>
<path d="M318.2,80.0 C321.8,80.2 325.8,80.0 328.6,77.6 C330.0,76.4 331.0,74.8 332.0,75.0 C333.4,80.2 329.8,86.2 324.2,86.2 C320.8,86.2 318.4,83.4 318.2,80.0 Z" stroke="#7a2446" stroke-width="0.6" fill="#a53f64"/>
<text x="246.50" y="98.20" font-size="7.2" text-anchor="middle" fill="#4a4a4a" textLength="17.40" lengthAdjust="spacingAndGlyphs">Class1</text>
<text x="273.50" y="98.20" font-size="7.2" text-anchor="middle" fill="#4a4a4a" textLength="17.40" lengthAdjust="spacingAndGlyphs">Class2</text>
<text x="299.20" y="98.20" font-size="7.2" text-anchor="middle" fill="#4a4a4a" textLength="17.40" lengthAdjust="spacingAndGlyphs">Class3</text>
<text x="324.90" y="98.20" font-size="7.2" text-anchor="middle" fill="#4a4a4a" textLength="17.40" lengthAdjust="spacingAndGlyphs">Class4</text>
<line x1="246.90" y1="101.50" x2="260.61" y2="113.36" stroke="#222" stroke-width="0.9"/>
<path d="M262.50,115.00 L259.27,114.45 L261.50,111.88 Z" stroke="#222" stroke-width="0.3" fill="#222"/>
<line x1="273.40" y1="99.80" x2="273.40" y2="111.30" stroke="#222" stroke-width="0.9"/>
<path d="M273.40,113.80 L271.70,111.00 L275.10,111.00 Z" stroke="#222" stroke-width="0.3" fill="#222"/>
<line x1="298.80" y1="99.80" x2="298.80" y2="111.50" stroke="#222" stroke-width="0.9"/>
<path d="M298.80,114.00 L297.10,111.20 L300.50,111.20 Z" stroke="#222" stroke-width="0.3" fill="#222"/>
<line x1="324.80" y1="101.50" x2="312.79" y2="113.25" stroke="#222" stroke-width="0.9"/>
<path d="M311.00,115.00 L311.81,111.83 L314.19,114.26 Z" stroke="#222" stroke-width="0.3" fill="#222"/>
<text x="286.70" y="121.40" font-size="7.8" text-anchor="middle" fill="#333" textLength="46.60" lengthAdjust="spacingAndGlyphs">in vivo or in vitro</text>
<g transform="translate(244.00,129.20) rotate(9.31)"><line x1="-3.5" y1="0" x2="0" y2="0" stroke="#8ab" stroke-width="0.6"/><rect x="0" y="-1.5" width="12.36" height="3" fill="#cfe8f5" stroke="#9cc" stroke-width="0.3"/><rect x="4.33" y="-1.5" width="7.05" height="3" fill="#2f5f9f"/><line x1="12.36" y1="-2.4" x2="12.36" y2="2.4" stroke="#7aa" stroke-width="0.7"/><line x1="12.36" y1="0" x2="14.86" y2="0" stroke="#7aa" stroke-width="0.7"/></g>
<g transform="translate(266.70,130.60) rotate(-11.48)"><line x1="-3.5" y1="0" x2="0" y2="0" stroke="#8ab" stroke-width="0.6"/><rect x="0" y="-1.5" width="13.06" height="3" fill="#cfe8f5" stroke="#9cc" stroke-width="0.3"/><rect x="0.00" y="-1.5" width="7.18" height="3" fill="#b02050"/><line x1="13.06" y1="-2.4" x2="13.06" y2="2.4" stroke="#7aa" stroke-width="0.7"/><line x1="13.06" y1="0" x2="15.56" y2="0" stroke="#7aa" stroke-width="0.7"/></g>
<path d="M252.2,128.2 C254.5,125.2 259.8,124.8 262.6,128.4" stroke="#777" stroke-width="1.3" fill="none"/>
<path d="M261.4,127.0 L263.4,129.6 L263.6,126.6 Z" stroke="#666" stroke-width="0.4" fill="#666"/>
<path d="M260.4,139.6 C260.6,136.2 257.8,134.8 255.6,135.4 C252.4,136.2 251.8,140.4 253.6,142.6 C255.0,144.6 257.0,146.4 259.2,148.6 C260.4,149.8 261.2,150.6 262.2,150.6 C263.2,150.6 264.0,149.8 265.2,148.6 C267.4,146.4 269.4,144.6 270.8,142.6 C272.6,140.4 272.0,136.2 268.8,135.4 C266.6,134.8 263.8,136.2 264.0,139.6" stroke="#222" stroke-width="0.9" fill="#fff"/>
<circle cx="259.80" cy="145.20" r="0.8" fill="#222"/>
<circle cx="264.70" cy="145.20" r="0.8" fill="#222"/>
<circle cx="262.20" cy="149.60" r="0.7" fill="#222"/>
<line x1="254.90" y1="133.20" x2="254.90" y2="135.60" stroke="#666" stroke-width="0.6"/>
<line x1="270.20" y1="133.20" x2="270.20" y2="135.60" stroke="#666" stroke-width="0.6"/>
<text x="239.20" y="138.40" font-size="7.8" text-anchor="middle" fill="#333" textLength="19.00" lengthAdjust="spacingAndGlyphs">Pooled</text>
<text x="240.60" y="146.50" font-size="7.8" text-anchor="middle" fill="#333" textLength="24.20" lengthAdjust="spacingAndGlyphs">monocytes</text>
<text x="290.90" y="137.60" font-size="7.8" text-anchor="middle" fill="#333" font-style="italic" textLength="34.20" lengthAdjust="spacingAndGlyphs">Live bacteria</text>
<ellipse cx="322.6" cy="138.4" rx="11.4" ry="8.9" fill="#e6a468" stroke="#cf8d50" stroke-width="0.6"/>
<ellipse cx="322.8" cy="139.6" rx="9.4" ry="6.8" fill="#eaae78" opacity="0.7"/>
<path d="M312.2,135.0 C314.6,129.6 329.6,128.4 333.6,135.2" stroke="#a8bccc" stroke-width="1.1" fill="none"/></g>
<rect x="0.6" y="0.6" width="518.8" height="576.8" fill="none" stroke="#4a4a4a" stroke-width="1.3"/>
</svg></body></html>
